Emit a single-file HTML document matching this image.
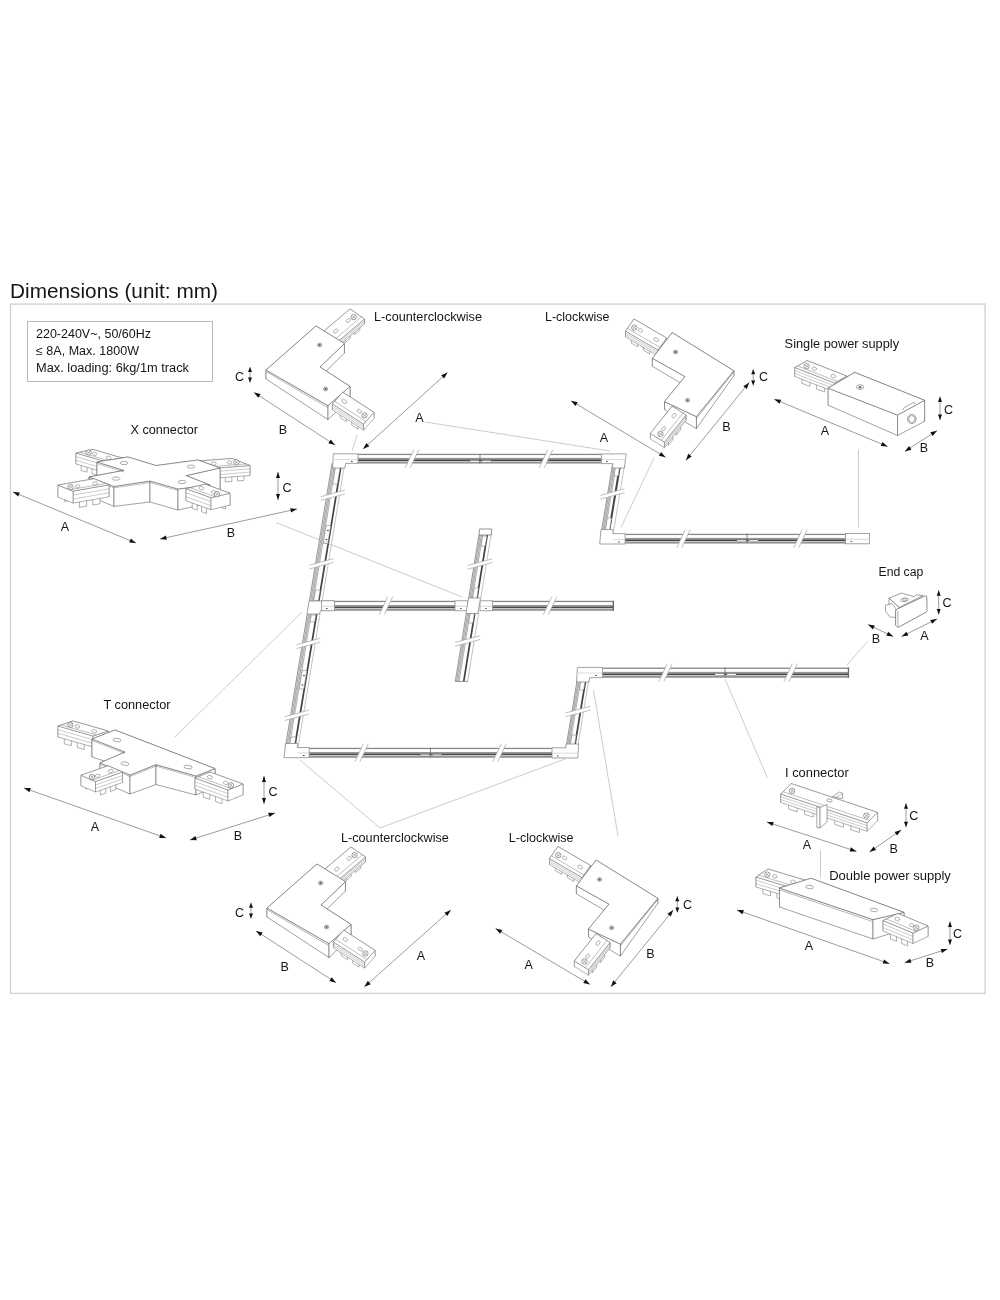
<!DOCTYPE html>
<html><head><meta charset="utf-8"><title>Dimensions</title>
<style>
html,body{margin:0;padding:0;background:#fff;}
body{width:1000px;height:1300px;overflow:hidden;font-family:"Liberation Sans",sans-serif;}
svg{display:block;position:absolute;left:0;top:0;will-change:transform;opacity:0.999;}
svg text{font-family:"Liberation Sans",sans-serif;}
</style></head><body>
<svg width="1000" height="1300" viewBox="0 0 1000 1300">
<rect x="0" y="0" width="1000" height="1300" fill="#fff"/>
<rect x="10.5" y="304.1" width="974.6" height="689.3" fill="none" stroke="#d2d2d2" stroke-width="1.4"/>
<rect x="27.5" y="321.5" width="185" height="60" fill="none" stroke="#b9b9b9" stroke-width="1"/>
<text x="10" y="297.5" font-size="21" text-anchor="start" fill="#151515" textLength="208" lengthAdjust="spacingAndGlyphs">Dimensions (unit: mm)</text>
<text x="36" y="337.5" font-size="12.3" text-anchor="start" fill="#151515" textLength="115" lengthAdjust="spacingAndGlyphs">220-240V~, 50/60Hz</text>
<text x="36" y="355" font-size="12.3" text-anchor="start" fill="#151515" textLength="103" lengthAdjust="spacingAndGlyphs">&#8804; 8A, Max. 1800W</text>
<text x="36" y="372.3" font-size="12.3" text-anchor="start" fill="#151515" textLength="153" lengthAdjust="spacingAndGlyphs">Max. loading: 6kg/1m track</text>
<polygon points="331.82,463 345.02,463 322.32,601 309.12,601" fill="#fff"/>
<polygon points="332.35,463 336.18,463 313.47,601 309.65,601" fill="#e9e9e9"/>
<line x1="332.08" y1="463" x2="309.38" y2="601" stroke="#7d7d7d" stroke-width="0.8"/>
<line x1="333.4" y1="463" x2="310.7" y2="601" stroke="#808080" stroke-width="0.6"/>
<line x1="334.72" y1="463" x2="312.02" y2="601" stroke="#808080" stroke-width="0.6"/>
<line x1="336.04" y1="463" x2="313.34" y2="601" stroke="#8a8a8a" stroke-width="0.6"/>
<line x1="341.46" y1="463" x2="318.75" y2="601" stroke="#444" stroke-width="1.7"/>
<line x1="344.82" y1="463" x2="322.12" y2="601" stroke="#9a9a9a" stroke-width="0.6"/>
<polygon points="306.98,614 320.18,614 298.14,748 284.94,748" fill="#fff"/>
<polygon points="307.51,614 311.34,614 289.29,748 285.47,748" fill="#e9e9e9"/>
<line x1="307.24" y1="614" x2="285.2" y2="748" stroke="#7d7d7d" stroke-width="0.8"/>
<line x1="308.56" y1="614" x2="286.52" y2="748" stroke="#808080" stroke-width="0.6"/>
<line x1="309.88" y1="614" x2="287.84" y2="748" stroke="#808080" stroke-width="0.6"/>
<line x1="311.2" y1="614" x2="289.16" y2="748" stroke="#8a8a8a" stroke-width="0.6"/>
<line x1="316.62" y1="614" x2="294.57" y2="748" stroke="#444" stroke-width="1.7"/>
<line x1="319.98" y1="614" x2="297.94" y2="748" stroke="#9a9a9a" stroke-width="0.6"/>
<polygon points="478.63,535 491.23,535 480.92,599 468.32,599" fill="#fff"/>
<polygon points="479.14,535 482.79,535 472.47,599 468.82,599" fill="#e9e9e9"/>
<line x1="478.88" y1="535" x2="468.57" y2="599" stroke="#7d7d7d" stroke-width="0.8"/>
<line x1="480.14" y1="535" x2="469.83" y2="599" stroke="#808080" stroke-width="0.6"/>
<line x1="481.4" y1="535" x2="471.09" y2="599" stroke="#808080" stroke-width="0.6"/>
<line x1="482.66" y1="535" x2="472.35" y2="599" stroke="#8a8a8a" stroke-width="0.6"/>
<line x1="487.2" y1="535" x2="476.88" y2="599" stroke="#444" stroke-width="1.7"/>
<line x1="491.04" y1="535" x2="480.73" y2="599" stroke="#9a9a9a" stroke-width="0.6"/>
<polygon points="466.06,613 478.86,613 467.83,681.4 455.03,681.4" fill="#fff"/>
<polygon points="466.57,613 470.28,613 459.26,681.4 455.55,681.4" fill="#e9e9e9"/>
<line x1="466.32" y1="613" x2="455.29" y2="681.4" stroke="#7d7d7d" stroke-width="0.8"/>
<line x1="467.6" y1="613" x2="456.57" y2="681.4" stroke="#808080" stroke-width="0.6"/>
<line x1="468.88" y1="613" x2="457.85" y2="681.4" stroke="#808080" stroke-width="0.6"/>
<line x1="470.16" y1="613" x2="459.13" y2="681.4" stroke="#8a8a8a" stroke-width="0.6"/>
<line x1="474.76" y1="613" x2="463.74" y2="681.4" stroke="#444" stroke-width="1.7"/>
<line x1="478.67" y1="613" x2="467.64" y2="681.4" stroke="#9a9a9a" stroke-width="0.6"/>
<polygon points="612.3,464 624.9,464 613.4,533.5 600.8,533.5" fill="#fff"/>
<polygon points="612.8,464 616.46,464 604.96,533.5 601.3,533.5" fill="#e9e9e9"/>
<line x1="612.55" y1="464" x2="601.05" y2="533.5" stroke="#7d7d7d" stroke-width="0.8"/>
<line x1="613.81" y1="464" x2="602.31" y2="533.5" stroke="#808080" stroke-width="0.6"/>
<line x1="615.07" y1="464" x2="603.57" y2="533.5" stroke="#808080" stroke-width="0.6"/>
<line x1="616.33" y1="464" x2="604.83" y2="533.5" stroke="#8a8a8a" stroke-width="0.6"/>
<line x1="620.24" y1="464" x2="608.74" y2="533.5" stroke="#444" stroke-width="2"/>
<line x1="624.71" y1="464" x2="613.21" y2="533.5" stroke="#9a9a9a" stroke-width="0.6"/>
<polygon points="577.4,677 589.4,677 577.6,748.5 565.6,748.5" fill="#fff"/>
<polygon points="577.88,677 581.36,677 569.56,748.5 566.08,748.5" fill="#e9e9e9"/>
<line x1="577.64" y1="677" x2="565.84" y2="748.5" stroke="#7d7d7d" stroke-width="0.8"/>
<line x1="578.84" y1="677" x2="567.04" y2="748.5" stroke="#808080" stroke-width="0.6"/>
<line x1="580.04" y1="677" x2="568.24" y2="748.5" stroke="#808080" stroke-width="0.6"/>
<line x1="581.24" y1="677" x2="569.44" y2="748.5" stroke="#8a8a8a" stroke-width="0.6"/>
<line x1="586.16" y1="677" x2="574.36" y2="748.5" stroke="#444" stroke-width="1.7"/>
<line x1="589.22" y1="677" x2="577.42" y2="748.5" stroke="#9a9a9a" stroke-width="0.6"/>
<polygon points="336.06,464 340.66,464 337.37,484 332.76,484" fill="#fff" stroke="#7a7a7a" stroke-width="0.55" stroke-linejoin="round"/>
<polygon points="326.14,525.5 330.74,525.5 327.78,543.5 323.18,543.5" fill="#fff" stroke="#7a7a7a" stroke-width="0.55" stroke-linejoin="round"/>
<rect x="327.07" y="529.86" width="1.6" height="1.1" fill="#333"/>
<rect x="325.56" y="539.04" width="1.6" height="1.1" fill="#333"/>
<polygon points="315.53,590 320.13,590 318.4,600.5 313.8,600.5" fill="#fff" stroke="#7a7a7a" stroke-width="0.55" stroke-linejoin="round"/>
<polygon points="311.22,615 315.82,615 314.66,622 310.06,622" fill="#fff" stroke="#7a7a7a" stroke-width="0.55" stroke-linejoin="round"/>
<polygon points="302.29,670.5 306.89,670.5 303.84,689 299.24,689" fill="#fff" stroke="#7a7a7a" stroke-width="0.55" stroke-linejoin="round"/>
<rect x="303.19" y="675" width="1.6" height="1.1" fill="#333"/>
<rect x="301.64" y="684.43" width="1.6" height="1.1" fill="#333"/>
<polygon points="291.15,737 295.75,737 293.94,748 289.34,748" fill="#fff" stroke="#7a7a7a" stroke-width="0.55" stroke-linejoin="round"/>
<polygon points="482.67,536 486.87,536 485.26,546 481.06,546" fill="#fff" stroke="#7a7a7a" stroke-width="0.55" stroke-linejoin="round"/>
<polygon points="474.29,588 478.49,588 476.72,599 472.52,599" fill="#fff" stroke="#7a7a7a" stroke-width="0.55" stroke-linejoin="round"/>
<polygon points="470.26,613 474.46,613 472.85,623 468.65,623" fill="#fff" stroke="#7a7a7a" stroke-width="0.55" stroke-linejoin="round"/>
<polygon points="615.58,466 619.78,466 618.2,476 614,476" fill="#fff" stroke="#7a7a7a" stroke-width="0.55" stroke-linejoin="round"/>
<polygon points="607.37,518 611.57,518 609.67,530 605.47,530" fill="#fff" stroke="#7a7a7a" stroke-width="0.55" stroke-linejoin="round"/>
<polygon points="581.27,679 585.47,679 583.65,690 579.45,690" fill="#fff" stroke="#7a7a7a" stroke-width="0.55" stroke-linejoin="round"/>
<polygon points="572.03,735 576.23,735 574.41,746 570.21,746" fill="#fff" stroke="#7a7a7a" stroke-width="0.55" stroke-linejoin="round"/>
<rect x="358" y="453.8" width="243" height="9.8" fill="#fff"/>
<rect x="358" y="453.8" width="243" height="1.25" fill="#878787"/>
<rect x="358" y="457.9" width="243" height="1.5" fill="#969696"/>
<rect x="358" y="459.4" width="243" height="1.7" fill="#484848"/>
<rect x="358" y="461.1" width="243" height="0.6" fill="#cdcdcd"/>
<rect x="358" y="461.7" width="243" height="1.9" fill="#949494"/>
<rect x="334" y="600.8" width="121" height="10" fill="#fff"/>
<rect x="334" y="600.8" width="121" height="1.28" fill="#878787"/>
<rect x="334" y="604.98" width="121" height="1.53" fill="#969696"/>
<rect x="334" y="606.51" width="121" height="1.73" fill="#484848"/>
<rect x="334" y="608.25" width="121" height="0.61" fill="#cdcdcd"/>
<rect x="334" y="608.86" width="121" height="1.94" fill="#949494"/>
<rect x="492" y="600.8" width="121" height="10" fill="#fff"/>
<rect x="492" y="600.8" width="121" height="1.28" fill="#878787"/>
<rect x="492" y="604.98" width="121" height="1.53" fill="#969696"/>
<rect x="492" y="606.51" width="121" height="1.73" fill="#484848"/>
<rect x="492" y="608.25" width="121" height="0.61" fill="#cdcdcd"/>
<rect x="492" y="608.86" width="121" height="1.94" fill="#949494"/>
<rect x="625" y="533.8" width="221" height="9.8" fill="#fff"/>
<rect x="625" y="533.8" width="221" height="1.25" fill="#878787"/>
<rect x="625" y="537.9" width="221" height="1.5" fill="#969696"/>
<rect x="625" y="539.4" width="221" height="1.7" fill="#484848"/>
<rect x="625" y="541.1" width="221" height="0.6" fill="#cdcdcd"/>
<rect x="625" y="541.7" width="221" height="1.9" fill="#949494"/>
<rect x="602.5" y="667.6" width="246.5" height="10.2" fill="#fff"/>
<rect x="602.5" y="667.6" width="246.5" height="1.3" fill="#878787"/>
<rect x="602.5" y="671.87" width="246.5" height="1.56" fill="#969696"/>
<rect x="602.5" y="673.43" width="246.5" height="1.77" fill="#484848"/>
<rect x="602.5" y="675.2" width="246.5" height="0.62" fill="#cdcdcd"/>
<rect x="602.5" y="675.82" width="246.5" height="1.98" fill="#949494"/>
<rect x="309" y="747.8" width="243" height="10" fill="#fff"/>
<rect x="309" y="747.8" width="243" height="1.28" fill="#878787"/>
<rect x="309" y="751.98" width="243" height="1.53" fill="#969696"/>
<rect x="309" y="753.51" width="243" height="1.73" fill="#484848"/>
<rect x="309" y="755.25" width="243" height="0.61" fill="#cdcdcd"/>
<rect x="309" y="755.86" width="243" height="1.94" fill="#949494"/>
<line x1="480" y1="454" x2="480" y2="463.5" stroke="#666" stroke-width="0.8"/>
<rect x="470" y="460.5" width="9" height="1.6" fill="#fff" stroke="#777" stroke-width="0.4"/>
<rect x="482" y="460.5" width="9" height="1.6" fill="#fff" stroke="#777" stroke-width="0.4"/>
<line x1="747" y1="533.5" x2="747" y2="543" stroke="#666" stroke-width="0.8"/>
<rect x="737" y="540" width="9" height="1.6" fill="#fff" stroke="#777" stroke-width="0.4"/>
<rect x="749" y="540" width="9" height="1.6" fill="#fff" stroke="#777" stroke-width="0.4"/>
<line x1="725" y1="667.2" x2="725" y2="676.7" stroke="#666" stroke-width="0.8"/>
<rect x="715" y="673.7" width="9" height="1.6" fill="#fff" stroke="#777" stroke-width="0.4"/>
<rect x="727" y="673.7" width="9" height="1.6" fill="#fff" stroke="#777" stroke-width="0.4"/>
<line x1="430.4" y1="747.8" x2="430.4" y2="757.3" stroke="#666" stroke-width="0.8"/>
<rect x="420.4" y="754.3" width="9" height="1.6" fill="#fff" stroke="#777" stroke-width="0.4"/>
<rect x="432.4" y="754.3" width="9" height="1.6" fill="#fff" stroke="#777" stroke-width="0.4"/>
<rect x="612.6" y="600.8" width="1.4" height="10" fill="#666"/>
<rect x="847.8" y="667.6" width="1.3" height="10.2" fill="#666"/>
<polygon points="333.3,453.8 358,453.8 358,463.4 345.6,463.4 344.9,468 332.6,468" fill="#fff" stroke="#8c8c8c" stroke-width="0.8" stroke-linejoin="round"/>
<line x1="334" y1="459.5" x2="357.6" y2="459.5" stroke="#c2c2c2" stroke-width="0.6"/>
<rect x="351" y="461" width="1.6" height="1" fill="#444"/>
<polygon points="601.5,453.9 626.2,453.9 624.4,468 612.2,468 612.9,463.6 601.5,463.6" fill="#fff" stroke="#8c8c8c" stroke-width="0.8" stroke-linejoin="round"/>
<line x1="602" y1="459.5" x2="625.5" y2="459.5" stroke="#c2c2c2" stroke-width="0.6"/>
<rect x="606" y="461" width="1.6" height="1" fill="#444"/>
<polygon points="601,529.6 613.4,529.6 612.8,533.6 625.1,533.6 625.1,544 599.7,544" fill="#fff" stroke="#8c8c8c" stroke-width="0.8" stroke-linejoin="round"/>
<line x1="613" y1="539.4" x2="624.6" y2="539.4" stroke="#c2c2c2" stroke-width="0.6"/>
<rect x="618" y="541.4" width="1.6" height="1" fill="#444"/>
<rect x="845.6" y="533.6" width="24" height="10.2" fill="#fff" stroke="#8c8c8c" stroke-width="0.8"/>
<line x1="845.6" y1="539.21" x2="869.6" y2="539.21" stroke="#bdbdbd" stroke-width="0.6"/>
<rect x="850.5" y="540.94" width="1.6" height="1" fill="#555"/>
<polygon points="309.12,601 334,601 334,610.5 320.62,610.5 319.48,614 306.98,614" fill="#fff" stroke="#8c8c8c" stroke-width="0.8" stroke-linejoin="round"/>
<rect x="321.5" y="600.8" width="13" height="10" fill="#fff" stroke="#8c8c8c" stroke-width="0.8"/>
<line x1="321.5" y1="606.3" x2="334.5" y2="606.3" stroke="#bdbdbd" stroke-width="0.6"/>
<rect x="326" y="608" width="1.6" height="1" fill="#555"/>
<rect x="455" y="600.8" width="12.5" height="10" fill="#fff" stroke="#8c8c8c" stroke-width="0.8"/>
<line x1="455" y1="606.3" x2="467.5" y2="606.3" stroke="#bdbdbd" stroke-width="0.6"/>
<rect x="460" y="608" width="1.6" height="1" fill="#555"/>
<rect x="480" y="600.8" width="12.5" height="10" fill="#fff" stroke="#8c8c8c" stroke-width="0.8"/>
<line x1="480" y1="606.3" x2="492.5" y2="606.3" stroke="#bdbdbd" stroke-width="0.6"/>
<rect x="485" y="608" width="1.6" height="1" fill="#555"/>
<polygon points="468.48,598 480.48,598 477.98,613.5 465.98,613.5" fill="#fff" stroke="#8c8c8c" stroke-width="0.8" stroke-linejoin="round"/>
<polygon points="479.6,529 491.8,529 491.3,535 479,535" fill="#fff" stroke="#777" stroke-width="0.8" stroke-linejoin="round"/>
<line x1="455.03" y1="681.4" x2="467.83" y2="681.4" stroke="#777" stroke-width="0.8"/>
<polygon points="577.4,667.4 602.5,667.4 602.5,677.6 589.7,677.6 589,682 576.6,682" fill="#fff" stroke="#8c8c8c" stroke-width="0.8" stroke-linejoin="round"/>
<line x1="578" y1="673" x2="602" y2="673" stroke="#c2c2c2" stroke-width="0.6"/>
<rect x="595" y="675" width="1.6" height="1" fill="#444"/>
<polygon points="566.2,744 578.7,744 577.8,758 552,758 552,747.8 565.6,747.8" fill="#fff" stroke="#8c8c8c" stroke-width="0.8" stroke-linejoin="round"/>
<line x1="552.5" y1="753.2" x2="577.4" y2="753.2" stroke="#c2c2c2" stroke-width="0.6"/>
<rect x="557" y="755.4" width="1.6" height="1" fill="#444"/>
<polygon points="285.7,743.5 298,743.5 297.2,747.5 309.2,747.5 309.2,757.7 284,757.7" fill="#fff" stroke="#8c8c8c" stroke-width="0.8" stroke-linejoin="round"/>
<line x1="297.4" y1="752.9" x2="308.8" y2="752.9" stroke="#c2c2c2" stroke-width="0.6"/>
<rect x="303" y="755" width="1.6" height="1" fill="#444"/>
<polygon points="413.73,449.7 418.73,449.7 410.27,467.7 405.27,467.7" fill="#fff"/>
<line x1="413.73" y1="449.7" x2="405.27" y2="467.7" stroke="#a3a3a3" stroke-width="0.7"/>
<line x1="418.73" y1="449.7" x2="410.27" y2="467.7" stroke="#a3a3a3" stroke-width="0.7"/>
<polygon points="547.73,449.7 552.73,449.7 544.27,467.7 539.27,467.7" fill="#fff"/>
<line x1="547.73" y1="449.7" x2="539.27" y2="467.7" stroke="#a3a3a3" stroke-width="0.7"/>
<line x1="552.73" y1="449.7" x2="544.27" y2="467.7" stroke="#a3a3a3" stroke-width="0.7"/>
<polygon points="387.73,596.7 392.73,596.7 384.27,614.7 379.27,614.7" fill="#fff"/>
<line x1="387.73" y1="596.7" x2="379.27" y2="614.7" stroke="#a3a3a3" stroke-width="0.7"/>
<line x1="392.73" y1="596.7" x2="384.27" y2="614.7" stroke="#a3a3a3" stroke-width="0.7"/>
<polygon points="551.73,596.7 556.73,596.7 548.27,614.7 543.27,614.7" fill="#fff"/>
<line x1="551.73" y1="596.7" x2="543.27" y2="614.7" stroke="#a3a3a3" stroke-width="0.7"/>
<line x1="556.73" y1="596.7" x2="548.27" y2="614.7" stroke="#a3a3a3" stroke-width="0.7"/>
<polygon points="685.23,529.7 690.23,529.7 681.77,547.7 676.77,547.7" fill="#fff"/>
<line x1="685.23" y1="529.7" x2="676.77" y2="547.7" stroke="#a3a3a3" stroke-width="0.7"/>
<line x1="690.23" y1="529.7" x2="681.77" y2="547.7" stroke="#a3a3a3" stroke-width="0.7"/>
<polygon points="802.23,529.7 807.23,529.7 798.77,547.7 793.77,547.7" fill="#fff"/>
<line x1="802.23" y1="529.7" x2="793.77" y2="547.7" stroke="#a3a3a3" stroke-width="0.7"/>
<line x1="807.23" y1="529.7" x2="798.77" y2="547.7" stroke="#a3a3a3" stroke-width="0.7"/>
<polygon points="667.23,663.7 672.23,663.7 663.77,681.7 658.77,681.7" fill="#fff"/>
<line x1="667.23" y1="663.7" x2="658.77" y2="681.7" stroke="#a3a3a3" stroke-width="0.7"/>
<line x1="672.23" y1="663.7" x2="663.77" y2="681.7" stroke="#a3a3a3" stroke-width="0.7"/>
<polygon points="792.33,663.7 797.33,663.7 788.87,681.7 783.87,681.7" fill="#fff"/>
<line x1="792.33" y1="663.7" x2="783.87" y2="681.7" stroke="#a3a3a3" stroke-width="0.7"/>
<line x1="797.33" y1="663.7" x2="788.87" y2="681.7" stroke="#a3a3a3" stroke-width="0.7"/>
<polygon points="363.33,743.8 368.33,743.8 359.87,761.8 354.87,761.8" fill="#fff"/>
<line x1="363.33" y1="743.8" x2="354.87" y2="761.8" stroke="#a3a3a3" stroke-width="0.7"/>
<line x1="368.33" y1="743.8" x2="359.87" y2="761.8" stroke="#a3a3a3" stroke-width="0.7"/>
<polygon points="501.23,743.8 506.23,743.8 497.77,761.8 492.77,761.8" fill="#fff"/>
<line x1="501.23" y1="743.8" x2="492.77" y2="761.8" stroke="#a3a3a3" stroke-width="0.7"/>
<line x1="506.23" y1="743.8" x2="497.77" y2="761.8" stroke="#a3a3a3" stroke-width="0.7"/>
<polygon points="320.81,496.64 344.81,490.16 344.81,493.96 320.81,500.44" fill="#fff"/>
<line x1="320.81" y1="496.64" x2="344.81" y2="490.16" stroke="#a3a3a3" stroke-width="0.7"/>
<line x1="320.81" y1="500.44" x2="344.81" y2="493.96" stroke="#a3a3a3" stroke-width="0.7"/>
<polygon points="309.54,565.14 333.54,558.66 333.54,562.46 309.54,568.94" fill="#fff"/>
<line x1="309.54" y1="565.14" x2="333.54" y2="558.66" stroke="#a3a3a3" stroke-width="0.7"/>
<line x1="309.54" y1="568.94" x2="333.54" y2="562.46" stroke="#a3a3a3" stroke-width="0.7"/>
<polygon points="296.44,644.74 320.44,638.26 320.44,642.06 296.44,648.54" fill="#fff"/>
<line x1="296.44" y1="644.74" x2="320.44" y2="638.26" stroke="#a3a3a3" stroke-width="0.7"/>
<line x1="296.44" y1="648.54" x2="320.44" y2="642.06" stroke="#a3a3a3" stroke-width="0.7"/>
<polygon points="284.6,716.74 308.6,710.26 308.6,714.06 284.6,720.54" fill="#fff"/>
<line x1="284.6" y1="716.74" x2="308.6" y2="710.26" stroke="#a3a3a3" stroke-width="0.7"/>
<line x1="284.6" y1="720.54" x2="308.6" y2="714.06" stroke="#a3a3a3" stroke-width="0.7"/>
<polygon points="600.5,495.34 624.5,488.86 624.5,492.66 600.5,499.14" fill="#fff"/>
<line x1="600.5" y1="495.34" x2="624.5" y2="488.86" stroke="#a3a3a3" stroke-width="0.7"/>
<line x1="600.5" y1="499.14" x2="624.5" y2="492.66" stroke="#a3a3a3" stroke-width="0.7"/>
<polygon points="467.46,565.48 492.46,558.73 492.46,562.52 467.46,569.27" fill="#fff"/>
<line x1="467.46" y1="565.48" x2="492.46" y2="558.73" stroke="#a3a3a3" stroke-width="0.7"/>
<line x1="467.46" y1="569.27" x2="492.46" y2="562.52" stroke="#a3a3a3" stroke-width="0.7"/>
<polygon points="455.05,642.48 480.05,635.73 480.05,639.52 455.05,646.27" fill="#fff"/>
<line x1="455.05" y1="642.48" x2="480.05" y2="635.73" stroke="#a3a3a3" stroke-width="0.7"/>
<line x1="455.05" y1="646.27" x2="480.05" y2="639.52" stroke="#a3a3a3" stroke-width="0.7"/>
<polygon points="565.5,712.98 590.5,706.23 590.5,710.02 565.5,716.77" fill="#fff"/>
<line x1="565.5" y1="712.98" x2="590.5" y2="706.23" stroke="#a3a3a3" stroke-width="0.7"/>
<line x1="565.5" y1="716.77" x2="590.5" y2="710.02" stroke="#a3a3a3" stroke-width="0.7"/>
<line x1="357" y1="435" x2="352" y2="451" stroke="#a9a9a9" stroke-width="0.6"/>
<line x1="425" y1="422" x2="610" y2="451" stroke="#a9a9a9" stroke-width="0.6"/>
<line x1="276" y1="522.5" x2="462" y2="597" stroke="#a9a9a9" stroke-width="0.6"/>
<line x1="302" y1="612" x2="175" y2="737" stroke="#a9a9a9" stroke-width="0.6"/>
<line x1="300" y1="760" x2="380" y2="828" stroke="#a9a9a9" stroke-width="0.6"/>
<line x1="380" y1="828" x2="565" y2="759" stroke="#a9a9a9" stroke-width="0.6"/>
<line x1="593.5" y1="690" x2="618" y2="836" stroke="#a9a9a9" stroke-width="0.6"/>
<line x1="725" y1="679" x2="767.5" y2="778" stroke="#a9a9a9" stroke-width="0.6"/>
<line x1="820.5" y1="850" x2="820.5" y2="877.5" stroke="#a9a9a9" stroke-width="0.6"/>
<line x1="867.5" y1="641.5" x2="847" y2="665" stroke="#a9a9a9" stroke-width="0.6"/>
<line x1="858.5" y1="449.5" x2="858.5" y2="527.5" stroke="#a9a9a9" stroke-width="0.6"/>
<line x1="654" y1="458" x2="621" y2="527.5" stroke="#a9a9a9" stroke-width="0.6"/>
<g id="comps">
<polygon points="345,338.5 350.2,334.1 350.2,338.35 345,342.75" fill="#fff" stroke="#707070" stroke-width="0.55" stroke-linejoin="round"/>
<polygon points="330.5,328.5 335.7,324.1 335.7,328.35 330.5,332.75" fill="#fff" stroke="#707070" stroke-width="0.55" stroke-linejoin="round"/>
<polygon points="354.62,330.36 359.82,325.96 359.82,330.21 354.62,334.61" fill="#fff" stroke="#707070" stroke-width="0.55" stroke-linejoin="round"/>
<polygon points="340.12,320.36 345.32,315.96 345.32,320.21 340.12,324.61" fill="#fff" stroke="#707070" stroke-width="0.55" stroke-linejoin="round"/>
<polygon points="350,309 364.5,319 364.5,324 350,314" fill="#fff" stroke="#707070" stroke-width="0.55" stroke-linejoin="round"/>
<polygon points="324,331 350,309 350,314 324,336" fill="#fff" stroke="#707070" stroke-width="0.55" stroke-linejoin="round"/>
<polygon points="364.5,319 338.5,341 338.5,346 364.5,324" fill="#fff" stroke="#707070" stroke-width="0.55" stroke-linejoin="round"/>
<polygon points="338.5,341 324,331 324,336 338.5,346" fill="#fff" stroke="#707070" stroke-width="0.55" stroke-linejoin="round"/>
<polygon points="324,331 350,309 364.5,319 338.5,341" fill="#fff" stroke="#707070" stroke-width="0.55" stroke-linejoin="round"/>
<line x1="338.5" y1="342.67" x2="364.5" y2="320.67" stroke="#8a8a8a" stroke-width="0.45"/>
<line x1="338.5" y1="344.33" x2="364.5" y2="322.33" stroke="#8a8a8a" stroke-width="0.45"/>
<line x1="335.31" y1="338.8" x2="361.31" y2="316.8" stroke="#707070" stroke-width="0.45"/>
<ellipse cx="335.72" cy="331.1" rx="2.5" ry="1.7" fill="#fff" stroke="#707070" stroke-width="0.5" transform="rotate(-40.24 335.72 331.1)"/>
<ellipse cx="348.2" cy="320.54" rx="2.3" ry="1.6" fill="#fff" stroke="#707070" stroke-width="0.5" transform="rotate(-40.24 348.2 320.54)"/>
<ellipse cx="353.61" cy="317.08" rx="2.7" ry="2.7" fill="#fff" stroke="#5c5c5c" stroke-width="0.6"/>
<line x1="351.81" y1="315.88" x2="355.41" y2="318.28" stroke="#707070" stroke-width="0.5"/>
<line x1="352.41" y1="318.88" x2="354.81" y2="315.28" stroke="#707070" stroke-width="0.5"/>
<polygon points="316,326 344.4,343.6 344.4,353.1 316,334" fill="#fff" stroke="#5c5c5c" stroke-width="0.58" stroke-linejoin="round"/>
<polygon points="266,370 316,326 316,334 266,379" fill="#fff" stroke="#5c5c5c" stroke-width="0.58" stroke-linejoin="round"/>
<polygon points="344.4,343.6 320,367 320,377 344.4,353.1" fill="#fff" stroke="#5c5c5c" stroke-width="0.58" stroke-linejoin="round"/>
<polygon points="320,367 350,386.4 350,398.4 320,377" fill="#fff" stroke="#5c5c5c" stroke-width="0.58" stroke-linejoin="round"/>
<polygon points="328,405.6 266,370 266,379 328,419.6" fill="#fff" stroke="#5c5c5c" stroke-width="0.58" stroke-linejoin="round"/>
<polygon points="350,386.4 328,405.6 328,419.6 350,398.4" fill="#fff" stroke="#5c5c5c" stroke-width="0.58" stroke-linejoin="round"/>
<polygon points="316,326 344.4,343.6 320,367 350,386.4 328,405.6 266,370" fill="#fff" stroke="#5c5c5c" stroke-width="0.58" stroke-linejoin="round"/>
<line x1="266.5" y1="371.8" x2="327.5" y2="407.4" stroke="#5c5c5c" stroke-width="0.45"/>
<ellipse cx="319.6" cy="345" rx="2.2" ry="1.87" fill="#fff" stroke="#5c5c5c" stroke-width="0.55"/>
<ellipse cx="319.6" cy="345" rx="0.99" ry="0.88" fill="#666" stroke="#444" stroke-width="0.4"/>
<ellipse cx="325.6" cy="389" rx="2.2" ry="1.87" fill="#fff" stroke="#5c5c5c" stroke-width="0.55"/>
<ellipse cx="325.6" cy="389" rx="0.99" ry="0.88" fill="#666" stroke="#444" stroke-width="0.4"/>
<polygon points="340.2,412.55 346.44,416.59 346.44,421.69 340.2,417.65" fill="#fff" stroke="#707070" stroke-width="0.55" stroke-linejoin="round"/>
<polygon points="350.6,400.85 356.84,404.89 356.84,409.99 350.6,405.95" fill="#fff" stroke="#707070" stroke-width="0.55" stroke-linejoin="round"/>
<polygon points="351.74,420.02 357.98,424.06 357.98,429.16 351.74,425.12" fill="#fff" stroke="#707070" stroke-width="0.55" stroke-linejoin="round"/>
<polygon points="362.14,408.32 368.38,412.36 368.38,417.46 362.14,413.42" fill="#fff" stroke="#707070" stroke-width="0.55" stroke-linejoin="round"/>
<polygon points="332.4,403.9 342.8,392.2 342.8,398.2 332.4,409.9" fill="#fff" stroke="#707070" stroke-width="0.55" stroke-linejoin="round"/>
<polygon points="342.8,392.2 374,412.4 374,418.4 342.8,398.2" fill="#fff" stroke="#707070" stroke-width="0.55" stroke-linejoin="round"/>
<polygon points="363.6,424.1 332.4,403.9 332.4,409.9 363.6,430.1" fill="#fff" stroke="#707070" stroke-width="0.55" stroke-linejoin="round"/>
<polygon points="374,412.4 363.6,424.1 363.6,430.1 374,418.4" fill="#fff" stroke="#707070" stroke-width="0.55" stroke-linejoin="round"/>
<polygon points="342.8,392.2 374,412.4 363.6,424.1 332.4,403.9" fill="#fff" stroke="#707070" stroke-width="0.55" stroke-linejoin="round"/>
<line x1="332.4" y1="405.9" x2="363.6" y2="426.1" stroke="#8a8a8a" stroke-width="0.45"/>
<line x1="332.4" y1="407.9" x2="363.6" y2="428.1" stroke="#8a8a8a" stroke-width="0.45"/>
<line x1="334.69" y1="401.33" x2="365.89" y2="421.53" stroke="#707070" stroke-width="0.45"/>
<ellipse cx="344.36" cy="401.5" rx="2.5" ry="1.7" fill="#fff" stroke="#707070" stroke-width="0.5" transform="rotate(32.92 344.36 401.5)"/>
<ellipse cx="359.34" cy="411.2" rx="2.3" ry="1.6" fill="#fff" stroke="#707070" stroke-width="0.5" transform="rotate(32.92 359.34 411.2)"/>
<ellipse cx="364.43" cy="415.42" rx="2.7" ry="2.7" fill="#fff" stroke="#5c5c5c" stroke-width="0.6"/>
<line x1="362.63" y1="414.22" x2="366.23" y2="416.62" stroke="#707070" stroke-width="0.5"/>
<line x1="363.23" y1="417.22" x2="365.63" y2="413.62" stroke="#707070" stroke-width="0.5"/>
<polygon points="346,876.5 351.2,872.1 351.2,876.35 346,880.75" fill="#fff" stroke="#707070" stroke-width="0.55" stroke-linejoin="round"/>
<polygon points="331.5,866.5 336.7,862.1 336.7,866.35 331.5,870.75" fill="#fff" stroke="#707070" stroke-width="0.55" stroke-linejoin="round"/>
<polygon points="355.62,868.36 360.82,863.96 360.82,868.21 355.62,872.61" fill="#fff" stroke="#707070" stroke-width="0.55" stroke-linejoin="round"/>
<polygon points="341.12,858.36 346.32,853.96 346.32,858.21 341.12,862.61" fill="#fff" stroke="#707070" stroke-width="0.55" stroke-linejoin="round"/>
<polygon points="351,847 365.5,857 365.5,862 351,852" fill="#fff" stroke="#707070" stroke-width="0.55" stroke-linejoin="round"/>
<polygon points="325,869 351,847 351,852 325,874" fill="#fff" stroke="#707070" stroke-width="0.55" stroke-linejoin="round"/>
<polygon points="365.5,857 339.5,879 339.5,884 365.5,862" fill="#fff" stroke="#707070" stroke-width="0.55" stroke-linejoin="round"/>
<polygon points="339.5,879 325,869 325,874 339.5,884" fill="#fff" stroke="#707070" stroke-width="0.55" stroke-linejoin="round"/>
<polygon points="325,869 351,847 365.5,857 339.5,879" fill="#fff" stroke="#707070" stroke-width="0.55" stroke-linejoin="round"/>
<line x1="339.5" y1="880.67" x2="365.5" y2="858.67" stroke="#8a8a8a" stroke-width="0.45"/>
<line x1="339.5" y1="882.33" x2="365.5" y2="860.33" stroke="#8a8a8a" stroke-width="0.45"/>
<line x1="336.31" y1="876.8" x2="362.31" y2="854.8" stroke="#707070" stroke-width="0.45"/>
<ellipse cx="336.72" cy="869.1" rx="2.5" ry="1.7" fill="#fff" stroke="#707070" stroke-width="0.5" transform="rotate(-40.24 336.72 869.1)"/>
<ellipse cx="349.2" cy="858.54" rx="2.3" ry="1.6" fill="#fff" stroke="#707070" stroke-width="0.5" transform="rotate(-40.24 349.2 858.54)"/>
<ellipse cx="354.61" cy="855.08" rx="2.7" ry="2.7" fill="#fff" stroke="#5c5c5c" stroke-width="0.6"/>
<line x1="352.81" y1="853.88" x2="356.41" y2="856.28" stroke="#707070" stroke-width="0.5"/>
<line x1="353.41" y1="856.88" x2="355.81" y2="853.28" stroke="#707070" stroke-width="0.5"/>
<polygon points="317,864 345.4,881.6 345.4,891.1 317,872" fill="#fff" stroke="#5c5c5c" stroke-width="0.58" stroke-linejoin="round"/>
<polygon points="267,908 317,864 317,872 267,917" fill="#fff" stroke="#5c5c5c" stroke-width="0.58" stroke-linejoin="round"/>
<polygon points="345.4,881.6 321,905 321,915 345.4,891.1" fill="#fff" stroke="#5c5c5c" stroke-width="0.58" stroke-linejoin="round"/>
<polygon points="321,905 351,924.4 351,936.4 321,915" fill="#fff" stroke="#5c5c5c" stroke-width="0.58" stroke-linejoin="round"/>
<polygon points="329,943.6 267,908 267,917 329,957.6" fill="#fff" stroke="#5c5c5c" stroke-width="0.58" stroke-linejoin="round"/>
<polygon points="351,924.4 329,943.6 329,957.6 351,936.4" fill="#fff" stroke="#5c5c5c" stroke-width="0.58" stroke-linejoin="round"/>
<polygon points="317,864 345.4,881.6 321,905 351,924.4 329,943.6 267,908" fill="#fff" stroke="#5c5c5c" stroke-width="0.58" stroke-linejoin="round"/>
<line x1="267.5" y1="909.8" x2="328.5" y2="945.4" stroke="#5c5c5c" stroke-width="0.45"/>
<ellipse cx="320.6" cy="883" rx="2.2" ry="1.87" fill="#fff" stroke="#5c5c5c" stroke-width="0.55"/>
<ellipse cx="320.6" cy="883" rx="0.99" ry="0.88" fill="#666" stroke="#444" stroke-width="0.4"/>
<ellipse cx="326.6" cy="927" rx="2.2" ry="1.87" fill="#fff" stroke="#5c5c5c" stroke-width="0.55"/>
<ellipse cx="326.6" cy="927" rx="0.99" ry="0.88" fill="#666" stroke="#444" stroke-width="0.4"/>
<polygon points="341.2,950.55 347.44,954.59 347.44,959.69 341.2,955.65" fill="#fff" stroke="#707070" stroke-width="0.55" stroke-linejoin="round"/>
<polygon points="351.6,938.85 357.84,942.89 357.84,947.99 351.6,943.95" fill="#fff" stroke="#707070" stroke-width="0.55" stroke-linejoin="round"/>
<polygon points="352.74,958.02 358.98,962.06 358.98,967.16 352.74,963.12" fill="#fff" stroke="#707070" stroke-width="0.55" stroke-linejoin="round"/>
<polygon points="363.14,946.32 369.38,950.36 369.38,955.46 363.14,951.42" fill="#fff" stroke="#707070" stroke-width="0.55" stroke-linejoin="round"/>
<polygon points="333.4,941.9 343.8,930.2 343.8,936.2 333.4,947.9" fill="#fff" stroke="#707070" stroke-width="0.55" stroke-linejoin="round"/>
<polygon points="343.8,930.2 375,950.4 375,956.4 343.8,936.2" fill="#fff" stroke="#707070" stroke-width="0.55" stroke-linejoin="round"/>
<polygon points="364.6,962.1 333.4,941.9 333.4,947.9 364.6,968.1" fill="#fff" stroke="#707070" stroke-width="0.55" stroke-linejoin="round"/>
<polygon points="375,950.4 364.6,962.1 364.6,968.1 375,956.4" fill="#fff" stroke="#707070" stroke-width="0.55" stroke-linejoin="round"/>
<polygon points="343.8,930.2 375,950.4 364.6,962.1 333.4,941.9" fill="#fff" stroke="#707070" stroke-width="0.55" stroke-linejoin="round"/>
<line x1="333.4" y1="943.9" x2="364.6" y2="964.1" stroke="#8a8a8a" stroke-width="0.45"/>
<line x1="333.4" y1="945.9" x2="364.6" y2="966.1" stroke="#8a8a8a" stroke-width="0.45"/>
<line x1="335.69" y1="939.33" x2="366.89" y2="959.53" stroke="#707070" stroke-width="0.45"/>
<ellipse cx="345.36" cy="939.5" rx="2.5" ry="1.7" fill="#fff" stroke="#707070" stroke-width="0.5" transform="rotate(32.92 345.36 939.5)"/>
<ellipse cx="360.34" cy="949.2" rx="2.3" ry="1.6" fill="#fff" stroke="#707070" stroke-width="0.5" transform="rotate(32.92 360.34 949.2)"/>
<ellipse cx="365.43" cy="953.42" rx="2.7" ry="2.7" fill="#fff" stroke="#5c5c5c" stroke-width="0.6"/>
<line x1="363.63" y1="952.22" x2="367.23" y2="954.62" stroke="#707070" stroke-width="0.5"/>
<line x1="364.23" y1="955.22" x2="366.63" y2="951.62" stroke="#707070" stroke-width="0.5"/>
<polygon points="649.88,348.85 643.38,345.05 643.38,350.15 649.88,353.95" fill="#fff" stroke="#707070" stroke-width="0.55" stroke-linejoin="round"/>
<polygon points="658.38,336.85 651.88,333.05 651.88,338.15 658.38,341.95" fill="#fff" stroke="#707070" stroke-width="0.55" stroke-linejoin="round"/>
<polygon points="637.85,341.82 631.35,338.02 631.35,343.12 637.85,346.92" fill="#fff" stroke="#707070" stroke-width="0.55" stroke-linejoin="round"/>
<polygon points="646.35,329.82 639.85,326.02 639.85,331.12 646.35,334.92" fill="#fff" stroke="#707070" stroke-width="0.55" stroke-linejoin="round"/>
<polygon points="634,319 625.5,331 625.5,337 634,325" fill="#fff" stroke="#707070" stroke-width="0.55" stroke-linejoin="round"/>
<polygon points="666.5,338 634,319 634,325 666.5,344" fill="#fff" stroke="#707070" stroke-width="0.55" stroke-linejoin="round"/>
<polygon points="625.5,331 658,350 658,356 625.5,337" fill="#fff" stroke="#707070" stroke-width="0.55" stroke-linejoin="round"/>
<polygon points="658,350 666.5,338 666.5,344 658,356" fill="#fff" stroke="#707070" stroke-width="0.55" stroke-linejoin="round"/>
<polygon points="666.5,338 634,319 625.5,331 658,350" fill="#fff" stroke="#707070" stroke-width="0.55" stroke-linejoin="round"/>
<line x1="658" y1="352" x2="625.5" y2="333" stroke="#8a8a8a" stroke-width="0.45"/>
<line x1="658" y1="354" x2="625.5" y2="335" stroke="#8a8a8a" stroke-width="0.45"/>
<line x1="659.87" y1="347.36" x2="627.37" y2="328.36" stroke="#707070" stroke-width="0.45"/>
<ellipse cx="656.17" cy="339.6" rx="2.5" ry="1.7" fill="#fff" stroke="#707070" stroke-width="0.5" transform="rotate(-149.69 656.17 339.6)"/>
<ellipse cx="640.57" cy="330.48" rx="2.3" ry="1.6" fill="#fff" stroke="#707070" stroke-width="0.5" transform="rotate(-149.69 640.57 330.48)"/>
<ellipse cx="634.3" cy="327.66" rx="2.7" ry="2.7" fill="#fff" stroke="#5c5c5c" stroke-width="0.6"/>
<line x1="632.5" y1="326.46" x2="636.1" y2="328.86" stroke="#707070" stroke-width="0.5"/>
<line x1="633.1" y1="329.46" x2="635.5" y2="325.86" stroke="#707070" stroke-width="0.5"/>
<polygon points="652.4,358.3 672.2,332.6 672.2,337.6 652.4,366.3" fill="#fff" stroke="#5c5c5c" stroke-width="0.58" stroke-linejoin="round"/>
<polygon points="672.2,332.6 733.8,370.8 733.8,375.8 672.2,337.6" fill="#fff" stroke="#5c5c5c" stroke-width="0.58" stroke-linejoin="round"/>
<polygon points="685,376.6 652.4,358.3 652.4,366.3 685,385.6" fill="#fff" stroke="#5c5c5c" stroke-width="0.58" stroke-linejoin="round"/>
<polygon points="664.5,401.6 685,376.6 685,385.6 664.5,409.6" fill="#fff" stroke="#5c5c5c" stroke-width="0.58" stroke-linejoin="round"/>
<polygon points="733.8,370.8 696.4,416.6 696.4,428.6 733.8,375.8" fill="#fff" stroke="#5c5c5c" stroke-width="0.58" stroke-linejoin="round"/>
<polygon points="696.4,416.6 664.5,401.6 664.5,409.6 696.4,428.6" fill="#fff" stroke="#5c5c5c" stroke-width="0.58" stroke-linejoin="round"/>
<polygon points="672.2,332.6 733.8,370.8 696.4,416.6 664.5,401.6 685,376.6 652.4,358.3" fill="#fff" stroke="#5c5c5c" stroke-width="0.58" stroke-linejoin="round"/>
<line x1="733.5" y1="372.4" x2="696.1" y2="418.8" stroke="#5c5c5c" stroke-width="0.45"/>
<ellipse cx="675.5" cy="352" rx="2.2" ry="1.87" fill="#fff" stroke="#5c5c5c" stroke-width="0.55"/>
<ellipse cx="675.5" cy="352" rx="0.99" ry="0.88" fill="#666" stroke="#444" stroke-width="0.4"/>
<ellipse cx="687.6" cy="400.3" rx="2.2" ry="1.87" fill="#fff" stroke="#5c5c5c" stroke-width="0.55"/>
<ellipse cx="687.6" cy="400.3" rx="0.99" ry="0.88" fill="#666" stroke="#444" stroke-width="0.4"/>
<polygon points="680.6,425.1 676.28,430.54 676.28,435.22 680.6,429.78" fill="#fff" stroke="#707070" stroke-width="0.55" stroke-linejoin="round"/>
<polygon points="666.6,416.3 662.28,421.74 662.28,426.42 666.6,420.98" fill="#fff" stroke="#707070" stroke-width="0.55" stroke-linejoin="round"/>
<polygon points="672.61,435.16 668.29,440.6 668.29,445.28 672.61,439.84" fill="#fff" stroke="#707070" stroke-width="0.55" stroke-linejoin="round"/>
<polygon points="658.61,426.36 654.29,431.8 654.29,436.48 658.61,431.04" fill="#fff" stroke="#707070" stroke-width="0.55" stroke-linejoin="round"/>
<polygon points="686,415 672,406.2 672,411.7 686,420.5" fill="#fff" stroke="#707070" stroke-width="0.55" stroke-linejoin="round"/>
<polygon points="672,406.2 650.4,433.4 650.4,438.9 672,411.7" fill="#fff" stroke="#707070" stroke-width="0.55" stroke-linejoin="round"/>
<polygon points="664.4,442.2 686,415 686,420.5 664.4,447.7" fill="#fff" stroke="#707070" stroke-width="0.55" stroke-linejoin="round"/>
<polygon points="650.4,433.4 664.4,442.2 664.4,447.7 650.4,438.9" fill="#fff" stroke="#707070" stroke-width="0.55" stroke-linejoin="round"/>
<polygon points="672,406.2 650.4,433.4 664.4,442.2 686,415" fill="#fff" stroke="#707070" stroke-width="0.55" stroke-linejoin="round"/>
<line x1="686" y1="416.83" x2="664.4" y2="444.03" stroke="#8a8a8a" stroke-width="0.45"/>
<line x1="686" y1="418.67" x2="664.4" y2="445.87" stroke="#8a8a8a" stroke-width="0.45"/>
<line x1="682.92" y1="413.06" x2="661.32" y2="440.26" stroke="#707070" stroke-width="0.45"/>
<ellipse cx="673.98" cy="415.6" rx="2.5" ry="1.7" fill="#fff" stroke="#707070" stroke-width="0.5" transform="rotate(128.45 673.98 415.6)"/>
<ellipse cx="663.61" cy="428.66" rx="2.3" ry="1.6" fill="#fff" stroke="#707070" stroke-width="0.5" transform="rotate(128.45 663.61 428.66)"/>
<ellipse cx="660.42" cy="433.99" rx="2.7" ry="2.7" fill="#fff" stroke="#5c5c5c" stroke-width="0.6"/>
<line x1="658.62" y1="432.79" x2="662.22" y2="435.19" stroke="#707070" stroke-width="0.5"/>
<line x1="659.22" y1="435.79" x2="661.62" y2="432.19" stroke="#707070" stroke-width="0.5"/>
<polygon points="573.88,876.35 567.38,872.55 567.38,877.65 573.88,881.45" fill="#fff" stroke="#707070" stroke-width="0.55" stroke-linejoin="round"/>
<polygon points="582.38,864.35 575.88,860.55 575.88,865.65 582.38,869.45" fill="#fff" stroke="#707070" stroke-width="0.55" stroke-linejoin="round"/>
<polygon points="561.85,869.32 555.35,865.52 555.35,870.62 561.85,874.42" fill="#fff" stroke="#707070" stroke-width="0.55" stroke-linejoin="round"/>
<polygon points="570.35,857.32 563.85,853.52 563.85,858.62 570.35,862.42" fill="#fff" stroke="#707070" stroke-width="0.55" stroke-linejoin="round"/>
<polygon points="558,846.5 549.5,858.5 549.5,864.5 558,852.5" fill="#fff" stroke="#707070" stroke-width="0.55" stroke-linejoin="round"/>
<polygon points="590.5,865.5 558,846.5 558,852.5 590.5,871.5" fill="#fff" stroke="#707070" stroke-width="0.55" stroke-linejoin="round"/>
<polygon points="549.5,858.5 582,877.5 582,883.5 549.5,864.5" fill="#fff" stroke="#707070" stroke-width="0.55" stroke-linejoin="round"/>
<polygon points="582,877.5 590.5,865.5 590.5,871.5 582,883.5" fill="#fff" stroke="#707070" stroke-width="0.55" stroke-linejoin="round"/>
<polygon points="590.5,865.5 558,846.5 549.5,858.5 582,877.5" fill="#fff" stroke="#707070" stroke-width="0.55" stroke-linejoin="round"/>
<line x1="582" y1="879.5" x2="549.5" y2="860.5" stroke="#8a8a8a" stroke-width="0.45"/>
<line x1="582" y1="881.5" x2="549.5" y2="862.5" stroke="#8a8a8a" stroke-width="0.45"/>
<line x1="583.87" y1="874.86" x2="551.37" y2="855.86" stroke="#707070" stroke-width="0.45"/>
<ellipse cx="580.17" cy="867.1" rx="2.5" ry="1.7" fill="#fff" stroke="#707070" stroke-width="0.5" transform="rotate(-149.69 580.17 867.1)"/>
<ellipse cx="564.57" cy="857.98" rx="2.3" ry="1.6" fill="#fff" stroke="#707070" stroke-width="0.5" transform="rotate(-149.69 564.57 857.98)"/>
<ellipse cx="558.3" cy="855.16" rx="2.7" ry="2.7" fill="#fff" stroke="#5c5c5c" stroke-width="0.6"/>
<line x1="556.5" y1="853.96" x2="560.1" y2="856.36" stroke="#707070" stroke-width="0.5"/>
<line x1="557.1" y1="856.96" x2="559.5" y2="853.36" stroke="#707070" stroke-width="0.5"/>
<polygon points="576.4,885.8 596.2,860.1 596.2,865.1 576.4,893.8" fill="#fff" stroke="#5c5c5c" stroke-width="0.58" stroke-linejoin="round"/>
<polygon points="596.2,860.1 657.8,898.3 657.8,903.3 596.2,865.1" fill="#fff" stroke="#5c5c5c" stroke-width="0.58" stroke-linejoin="round"/>
<polygon points="609,904.1 576.4,885.8 576.4,893.8 609,913.1" fill="#fff" stroke="#5c5c5c" stroke-width="0.58" stroke-linejoin="round"/>
<polygon points="588.5,929.1 609,904.1 609,913.1 588.5,937.1" fill="#fff" stroke="#5c5c5c" stroke-width="0.58" stroke-linejoin="round"/>
<polygon points="657.8,898.3 620.4,944.1 620.4,956.1 657.8,903.3" fill="#fff" stroke="#5c5c5c" stroke-width="0.58" stroke-linejoin="round"/>
<polygon points="620.4,944.1 588.5,929.1 588.5,937.1 620.4,956.1" fill="#fff" stroke="#5c5c5c" stroke-width="0.58" stroke-linejoin="round"/>
<polygon points="596.2,860.1 657.8,898.3 620.4,944.1 588.5,929.1 609,904.1 576.4,885.8" fill="#fff" stroke="#5c5c5c" stroke-width="0.58" stroke-linejoin="round"/>
<line x1="657.5" y1="899.9" x2="620.1" y2="946.3" stroke="#5c5c5c" stroke-width="0.45"/>
<ellipse cx="599.5" cy="879.5" rx="2.2" ry="1.87" fill="#fff" stroke="#5c5c5c" stroke-width="0.55"/>
<ellipse cx="599.5" cy="879.5" rx="0.99" ry="0.88" fill="#666" stroke="#444" stroke-width="0.4"/>
<ellipse cx="611.6" cy="927.8" rx="2.2" ry="1.87" fill="#fff" stroke="#5c5c5c" stroke-width="0.55"/>
<ellipse cx="611.6" cy="927.8" rx="0.99" ry="0.88" fill="#666" stroke="#444" stroke-width="0.4"/>
<polygon points="604.6,952.6 600.28,958.04 600.28,962.72 604.6,957.27" fill="#fff" stroke="#707070" stroke-width="0.55" stroke-linejoin="round"/>
<polygon points="590.6,943.8 586.28,949.24 586.28,953.92 590.6,948.48" fill="#fff" stroke="#707070" stroke-width="0.55" stroke-linejoin="round"/>
<polygon points="596.61,962.66 592.29,968.1 592.29,972.78 596.61,967.34" fill="#fff" stroke="#707070" stroke-width="0.55" stroke-linejoin="round"/>
<polygon points="582.61,953.86 578.29,959.3 578.29,963.98 582.61,958.54" fill="#fff" stroke="#707070" stroke-width="0.55" stroke-linejoin="round"/>
<polygon points="610,942.5 596,933.7 596,939.2 610,948" fill="#fff" stroke="#707070" stroke-width="0.55" stroke-linejoin="round"/>
<polygon points="596,933.7 574.4,960.9 574.4,966.4 596,939.2" fill="#fff" stroke="#707070" stroke-width="0.55" stroke-linejoin="round"/>
<polygon points="588.4,969.7 610,942.5 610,948 588.4,975.2" fill="#fff" stroke="#707070" stroke-width="0.55" stroke-linejoin="round"/>
<polygon points="574.4,960.9 588.4,969.7 588.4,975.2 574.4,966.4" fill="#fff" stroke="#707070" stroke-width="0.55" stroke-linejoin="round"/>
<polygon points="596,933.7 574.4,960.9 588.4,969.7 610,942.5" fill="#fff" stroke="#707070" stroke-width="0.55" stroke-linejoin="round"/>
<line x1="610" y1="944.33" x2="588.4" y2="971.53" stroke="#8a8a8a" stroke-width="0.45"/>
<line x1="610" y1="946.17" x2="588.4" y2="973.37" stroke="#8a8a8a" stroke-width="0.45"/>
<line x1="606.92" y1="940.56" x2="585.32" y2="967.76" stroke="#707070" stroke-width="0.45"/>
<ellipse cx="597.98" cy="943.1" rx="2.5" ry="1.7" fill="#fff" stroke="#707070" stroke-width="0.5" transform="rotate(128.45 597.98 943.1)"/>
<ellipse cx="587.61" cy="956.16" rx="2.3" ry="1.6" fill="#fff" stroke="#707070" stroke-width="0.5" transform="rotate(128.45 587.61 956.16)"/>
<ellipse cx="584.42" cy="961.49" rx="2.7" ry="2.7" fill="#fff" stroke="#5c5c5c" stroke-width="0.6"/>
<line x1="582.62" y1="960.29" x2="586.22" y2="962.69" stroke="#707070" stroke-width="0.5"/>
<line x1="583.22" y1="963.29" x2="585.62" y2="959.69" stroke="#707070" stroke-width="0.5"/>
<polygon points="97.75,465.98 91.95,464.28 91.95,473.62 97.75,475.32" fill="#fff" stroke="#707070" stroke-width="0.55" stroke-linejoin="round"/>
<polygon points="114.75,462.48 108.95,460.78 108.95,470.12 114.75,471.82" fill="#fff" stroke="#707070" stroke-width="0.55" stroke-linejoin="round"/>
<polygon points="87.02,462.83 81.22,461.13 81.22,470.48 87.02,472.18" fill="#fff" stroke="#707070" stroke-width="0.55" stroke-linejoin="round"/>
<polygon points="104.02,459.33 98.22,457.63 98.22,466.98 104.02,468.68" fill="#fff" stroke="#707070" stroke-width="0.55" stroke-linejoin="round"/>
<polygon points="93,449.5 76,453 76,464 93,460.5" fill="#fff" stroke="#707070" stroke-width="0.55" stroke-linejoin="round"/>
<polygon points="122,458 93,449.5 93,460.5 122,469" fill="#fff" stroke="#707070" stroke-width="0.55" stroke-linejoin="round"/>
<polygon points="76,453 105,461.5 105,472.5 76,464" fill="#fff" stroke="#707070" stroke-width="0.55" stroke-linejoin="round"/>
<polygon points="105,461.5 122,458 122,469 105,472.5" fill="#fff" stroke="#707070" stroke-width="0.55" stroke-linejoin="round"/>
<polygon points="122,458 93,449.5 76,453 105,461.5" fill="#fff" stroke="#707070" stroke-width="0.55" stroke-linejoin="round"/>
<line x1="105" y1="465.17" x2="76" y2="456.67" stroke="#8a8a8a" stroke-width="0.45"/>
<line x1="105" y1="468.83" x2="76" y2="460.33" stroke="#8a8a8a" stroke-width="0.45"/>
<line x1="108.74" y1="460.73" x2="79.74" y2="452.23" stroke="#707070" stroke-width="0.45"/>
<ellipse cx="108.55" cy="457.88" rx="2.5" ry="1.7" fill="#fff" stroke="#707070" stroke-width="0.5" transform="rotate(-163.66 108.55 457.88)"/>
<ellipse cx="94.63" cy="453.8" rx="2.3" ry="1.6" fill="#fff" stroke="#707070" stroke-width="0.5" transform="rotate(-163.66 94.63 453.8)"/>
<ellipse cx="88.56" cy="452.44" rx="2.7" ry="2.7" fill="#fff" stroke="#5c5c5c" stroke-width="0.6"/>
<line x1="86.76" y1="451.24" x2="90.36" y2="453.64" stroke="#707070" stroke-width="0.5"/>
<line x1="87.36" y1="454.24" x2="89.76" y2="450.64" stroke="#707070" stroke-width="0.5"/>
<polygon points="225.25,473.38 231.85,472.88 231.85,481.38 225.25,481.88" fill="#fff" stroke="#707070" stroke-width="0.55" stroke-linejoin="round"/>
<polygon points="207.25,466.38 213.85,465.88 213.85,474.38 207.25,474.88" fill="#fff" stroke="#707070" stroke-width="0.55" stroke-linejoin="round"/>
<polygon points="237.46,472.45 244.06,471.95 244.06,480.45 237.46,480.95" fill="#fff" stroke="#707070" stroke-width="0.55" stroke-linejoin="round"/>
<polygon points="219.46,465.45 226.06,464.95 226.06,473.45 219.46,473.95" fill="#fff" stroke="#707070" stroke-width="0.55" stroke-linejoin="round"/>
<polygon points="199,461 232,458.5 232,468.5 199,471" fill="#fff" stroke="#707070" stroke-width="0.55" stroke-linejoin="round"/>
<polygon points="232,458.5 250,465.5 250,475.5 232,468.5" fill="#fff" stroke="#707070" stroke-width="0.55" stroke-linejoin="round"/>
<polygon points="217,468 199,461 199,471 217,478" fill="#fff" stroke="#707070" stroke-width="0.55" stroke-linejoin="round"/>
<polygon points="250,465.5 217,468 217,478 250,475.5" fill="#fff" stroke="#707070" stroke-width="0.55" stroke-linejoin="round"/>
<polygon points="199,461 232,458.5 250,465.5 217,468" fill="#fff" stroke="#707070" stroke-width="0.55" stroke-linejoin="round"/>
<line x1="217" y1="471.33" x2="250" y2="468.83" stroke="#8a8a8a" stroke-width="0.45"/>
<line x1="217" y1="474.67" x2="250" y2="472.17" stroke="#8a8a8a" stroke-width="0.45"/>
<line x1="213.04" y1="466.46" x2="246.04" y2="463.96" stroke="#707070" stroke-width="0.45"/>
<ellipse cx="213.7" cy="463.65" rx="2.5" ry="1.7" fill="#fff" stroke="#707070" stroke-width="0.5" transform="rotate(-4.33 213.7 463.65)"/>
<ellipse cx="229.54" cy="462.45" rx="2.3" ry="1.6" fill="#fff" stroke="#707070" stroke-width="0.5" transform="rotate(-4.33 229.54 462.45)"/>
<ellipse cx="236.38" cy="462.35" rx="2.7" ry="2.7" fill="#fff" stroke="#5c5c5c" stroke-width="0.6"/>
<line x1="234.58" y1="461.15" x2="238.18" y2="463.55" stroke="#707070" stroke-width="0.5"/>
<line x1="235.18" y1="464.15" x2="237.58" y2="460.55" stroke="#707070" stroke-width="0.5"/>
<polygon points="97,462 128,457 128,472 97,477" fill="#fff" stroke="#5c5c5c" stroke-width="0.58" stroke-linejoin="round"/>
<polygon points="128,457 156,465.6 156,480.6 128,472" fill="#fff" stroke="#5c5c5c" stroke-width="0.58" stroke-linejoin="round"/>
<polygon points="156,465.6 198,460 198,475 156,480.6" fill="#fff" stroke="#5c5c5c" stroke-width="0.58" stroke-linejoin="round"/>
<polygon points="198,460 220,468 220,490 198,475" fill="#fff" stroke="#5c5c5c" stroke-width="0.58" stroke-linejoin="round"/>
<polygon points="124,470.4 97,462 97,477 124,485.4" fill="#fff" stroke="#5c5c5c" stroke-width="0.58" stroke-linejoin="round"/>
<polygon points="220,468 186,475.6 186,491.6 220,490" fill="#fff" stroke="#5c5c5c" stroke-width="0.58" stroke-linejoin="round"/>
<polygon points="89,477 124,470.4 124,485.4 89,496" fill="#fff" stroke="#5c5c5c" stroke-width="0.58" stroke-linejoin="round"/>
<polygon points="186,475.6 210,485 210,503 186,491.6" fill="#fff" stroke="#5c5c5c" stroke-width="0.58" stroke-linejoin="round"/>
<polygon points="114,486.4 89,477 89,496 114,506.4" fill="#fff" stroke="#5c5c5c" stroke-width="0.58" stroke-linejoin="round"/>
<polygon points="150,481 114,486.4 114,506.4 150,502" fill="#fff" stroke="#5c5c5c" stroke-width="0.58" stroke-linejoin="round"/>
<polygon points="178,489 150,481 150,502 178,510" fill="#fff" stroke="#5c5c5c" stroke-width="0.58" stroke-linejoin="round"/>
<polygon points="210,485 178,489 178,510 210,503" fill="#fff" stroke="#5c5c5c" stroke-width="0.58" stroke-linejoin="round"/>
<polygon points="128,457 156,465.6 198,460 220,468 186,475.6 210,485 178,489 150,481 114,486.4 89,477 124,470.4 97,462" fill="#fff" stroke="#5c5c5c" stroke-width="0.58" stroke-linejoin="round"/>
<line x1="89" y1="478.5" x2="114" y2="487.9" stroke="#5c5c5c" stroke-width="0.4"/>
<line x1="114" y1="487.9" x2="150" y2="482.5" stroke="#5c5c5c" stroke-width="0.4"/>
<line x1="150" y1="482.5" x2="178" y2="490.5" stroke="#5c5c5c" stroke-width="0.4"/>
<line x1="97" y1="463.5" x2="124" y2="471.9" stroke="#5c5c5c" stroke-width="0.4"/>
<ellipse cx="124" cy="463" rx="4" ry="1.6" fill="#fff" stroke="#5c5c5c" stroke-width="0.5"/>
<ellipse cx="116" cy="478.6" rx="4" ry="1.6" fill="#fff" stroke="#5c5c5c" stroke-width="0.5"/>
<ellipse cx="191" cy="466.6" rx="4" ry="1.6" fill="#fff" stroke="#5c5c5c" stroke-width="0.5"/>
<ellipse cx="182" cy="482" rx="4" ry="1.6" fill="#fff" stroke="#5c5c5c" stroke-width="0.5"/>
<polygon points="85,487.57 77.8,488.83 77.8,499.03 85,497.77" fill="#fff" stroke="#707070" stroke-width="0.55" stroke-linejoin="round"/>
<polygon points="100,493.57 92.8,494.83 92.8,505.03 100,503.77" fill="#fff" stroke="#707070" stroke-width="0.55" stroke-linejoin="round"/>
<polygon points="71.68,489.91 64.48,491.17 64.48,501.37 71.68,500.11" fill="#fff" stroke="#707070" stroke-width="0.55" stroke-linejoin="round"/>
<polygon points="86.68,495.91 79.48,497.17 79.48,507.37 86.68,506.11" fill="#fff" stroke="#707070" stroke-width="0.55" stroke-linejoin="round"/>
<polygon points="94,478.8 109,484.8 109,496.8 94,490.8" fill="#fff" stroke="#707070" stroke-width="0.55" stroke-linejoin="round"/>
<polygon points="58,485.1 94,478.8 94,490.8 58,497.1" fill="#fff" stroke="#707070" stroke-width="0.55" stroke-linejoin="round"/>
<polygon points="109,484.8 73,491.1 73,503.1 109,496.8" fill="#fff" stroke="#707070" stroke-width="0.55" stroke-linejoin="round"/>
<polygon points="73,491.1 58,485.1 58,497.1 73,503.1" fill="#fff" stroke="#707070" stroke-width="0.55" stroke-linejoin="round"/>
<polygon points="109,484.8 73,491.1 58,485.1 94,478.8" fill="#fff" stroke="#707070" stroke-width="0.55" stroke-linejoin="round"/>
<line x1="109" y1="488.8" x2="73" y2="495.1" stroke="#8a8a8a" stroke-width="0.45"/>
<line x1="109" y1="492.8" x2="73" y2="499.1" stroke="#8a8a8a" stroke-width="0.45"/>
<line x1="105.7" y1="483.48" x2="69.7" y2="489.78" stroke="#707070" stroke-width="0.45"/>
<ellipse cx="95.05" cy="483.36" rx="2.5" ry="1.7" fill="#fff" stroke="#707070" stroke-width="0.5" transform="rotate(170.07 95.05 483.36)"/>
<ellipse cx="77.77" cy="486.38" rx="2.3" ry="1.6" fill="#fff" stroke="#707070" stroke-width="0.5" transform="rotate(170.07 77.77 486.38)"/>
<ellipse cx="70.54" cy="487.22" rx="2.7" ry="2.7" fill="#fff" stroke="#5c5c5c" stroke-width="0.6"/>
<line x1="68.74" y1="486.02" x2="72.34" y2="488.42" stroke="#707070" stroke-width="0.5"/>
<line x1="69.34" y1="489.02" x2="71.74" y2="485.42" stroke="#707070" stroke-width="0.5"/>
<polygon points="192.25,498.15 197.25,499.95 197.25,510.15 192.25,508.35" fill="#fff" stroke="#707070" stroke-width="0.55" stroke-linejoin="round"/>
<polygon points="211.25,493.65 216.25,495.45 216.25,505.65 211.25,503.85" fill="#fff" stroke="#707070" stroke-width="0.55" stroke-linejoin="round"/>
<polygon points="201.5,501.48 206.5,503.28 206.5,513.48 201.5,511.68" fill="#fff" stroke="#707070" stroke-width="0.55" stroke-linejoin="round"/>
<polygon points="220.5,496.98 225.5,498.78 225.5,508.98 220.5,507.18" fill="#fff" stroke="#707070" stroke-width="0.55" stroke-linejoin="round"/>
<polygon points="186,488.7 205,484.2 205,496.2 186,500.7" fill="#fff" stroke="#707070" stroke-width="0.55" stroke-linejoin="round"/>
<polygon points="205,484.2 230,493.2 230,505.2 205,496.2" fill="#fff" stroke="#707070" stroke-width="0.55" stroke-linejoin="round"/>
<polygon points="211,497.7 186,488.7 186,500.7 211,509.7" fill="#fff" stroke="#707070" stroke-width="0.55" stroke-linejoin="round"/>
<polygon points="230,493.2 211,497.7 211,509.7 230,505.2" fill="#fff" stroke="#707070" stroke-width="0.55" stroke-linejoin="round"/>
<polygon points="205,484.2 230,493.2 211,497.7 186,488.7" fill="#fff" stroke="#707070" stroke-width="0.55" stroke-linejoin="round"/>
<line x1="186" y1="492.7" x2="211" y2="501.7" stroke="#8a8a8a" stroke-width="0.45"/>
<line x1="186" y1="496.7" x2="211" y2="505.7" stroke="#8a8a8a" stroke-width="0.45"/>
<line x1="190.18" y1="487.71" x2="215.18" y2="496.71" stroke="#707070" stroke-width="0.45"/>
<ellipse cx="201.45" cy="488.02" rx="2.5" ry="1.7" fill="#fff" stroke="#707070" stroke-width="0.5" transform="rotate(19.8 201.45 488.02)"/>
<ellipse cx="213.45" cy="492.34" rx="2.3" ry="1.6" fill="#fff" stroke="#707070" stroke-width="0.5" transform="rotate(19.8 213.45 492.34)"/>
<ellipse cx="217" cy="494.19" rx="2.7" ry="2.7" fill="#fff" stroke="#5c5c5c" stroke-width="0.6"/>
<line x1="215.2" y1="492.99" x2="218.8" y2="495.39" stroke="#707070" stroke-width="0.5"/>
<line x1="215.8" y1="495.99" x2="218.2" y2="492.39" stroke="#707070" stroke-width="0.5"/>
<polygon points="84.25,740.1 77.25,738.1 77.25,747.45 84.25,749.45" fill="#fff" stroke="#707070" stroke-width="0.55" stroke-linejoin="round"/>
<polygon points="99.25,735.1 92.25,733.1 92.25,742.45 99.25,744.45" fill="#fff" stroke="#707070" stroke-width="0.55" stroke-linejoin="round"/>
<polygon points="71.3,736.4 64.3,734.4 64.3,743.75 71.3,745.75" fill="#fff" stroke="#707070" stroke-width="0.55" stroke-linejoin="round"/>
<polygon points="86.3,731.4 79.3,729.4 79.3,738.75 86.3,740.75" fill="#fff" stroke="#707070" stroke-width="0.55" stroke-linejoin="round"/>
<polygon points="73,721 58,726 58,737 73,732" fill="#fff" stroke="#707070" stroke-width="0.55" stroke-linejoin="round"/>
<polygon points="108,731 73,721 73,732 108,742" fill="#fff" stroke="#707070" stroke-width="0.55" stroke-linejoin="round"/>
<polygon points="58,726 93,736 93,747 58,737" fill="#fff" stroke="#707070" stroke-width="0.55" stroke-linejoin="round"/>
<polygon points="93,736 108,731 108,742 93,747" fill="#fff" stroke="#707070" stroke-width="0.55" stroke-linejoin="round"/>
<polygon points="108,731 73,721 58,726 93,736" fill="#fff" stroke="#707070" stroke-width="0.55" stroke-linejoin="round"/>
<line x1="93" y1="739.67" x2="58" y2="729.67" stroke="#8a8a8a" stroke-width="0.45"/>
<line x1="93" y1="743.33" x2="58" y2="733.33" stroke="#8a8a8a" stroke-width="0.45"/>
<line x1="96.3" y1="734.9" x2="61.3" y2="724.9" stroke="#707070" stroke-width="0.45"/>
<ellipse cx="94.25" cy="731.25" rx="2.5" ry="1.7" fill="#fff" stroke="#707070" stroke-width="0.5" transform="rotate(-164.05 94.25 731.25)"/>
<ellipse cx="77.45" cy="726.45" rx="2.3" ry="1.6" fill="#fff" stroke="#707070" stroke-width="0.5" transform="rotate(-164.05 77.45 726.45)"/>
<ellipse cx="70.4" cy="724.9" rx="2.7" ry="2.7" fill="#fff" stroke="#5c5c5c" stroke-width="0.6"/>
<line x1="68.6" y1="723.7" x2="72.2" y2="726.1" stroke="#707070" stroke-width="0.5"/>
<line x1="69.2" y1="726.7" x2="71.6" y2="723.1" stroke="#707070" stroke-width="0.5"/>
<polygon points="92,739 115,730 115,744 92,757" fill="#fff" stroke="#5c5c5c" stroke-width="0.58" stroke-linejoin="round"/>
<polygon points="125,752 92,739 92,757 125,768" fill="#fff" stroke="#5c5c5c" stroke-width="0.58" stroke-linejoin="round"/>
<polygon points="115,730 215,768.6 215,786.6 115,744" fill="#fff" stroke="#5c5c5c" stroke-width="0.58" stroke-linejoin="round"/>
<polygon points="100,763 125,752 125,768 100,781" fill="#fff" stroke="#5c5c5c" stroke-width="0.58" stroke-linejoin="round"/>
<polygon points="130,775 100,763 100,781 130,794" fill="#fff" stroke="#5c5c5c" stroke-width="0.58" stroke-linejoin="round"/>
<polygon points="156,764.6 130,775 130,794 156,784.6" fill="#fff" stroke="#5c5c5c" stroke-width="0.58" stroke-linejoin="round"/>
<polygon points="196,776 156,764.6 156,784.6 196,795" fill="#fff" stroke="#5c5c5c" stroke-width="0.58" stroke-linejoin="round"/>
<polygon points="215,768.6 196,776 196,795 215,786.6" fill="#fff" stroke="#5c5c5c" stroke-width="0.58" stroke-linejoin="round"/>
<polygon points="115,730 215,768.6 196,776 156,764.6 130,775 100,763 125,752 92,739" fill="#fff" stroke="#5c5c5c" stroke-width="0.58" stroke-linejoin="round"/>
<line x1="100" y1="764.5" x2="130" y2="776.5" stroke="#5c5c5c" stroke-width="0.4"/>
<line x1="130" y1="776.5" x2="156" y2="766.1" stroke="#5c5c5c" stroke-width="0.4"/>
<line x1="156" y1="766.1" x2="196" y2="777.5" stroke="#5c5c5c" stroke-width="0.4"/>
<line x1="92" y1="740.5" x2="125" y2="753.5" stroke="#5c5c5c" stroke-width="0.4"/>
<ellipse cx="117" cy="740" rx="4.1" ry="1.7" fill="#fff" stroke="#5c5c5c" stroke-width="0.5" transform="rotate(8 117 740)"/>
<ellipse cx="125" cy="763.6" rx="4.1" ry="1.7" fill="#fff" stroke="#5c5c5c" stroke-width="0.5" transform="rotate(8 125 763.6)"/>
<ellipse cx="188" cy="767" rx="4.1" ry="1.7" fill="#fff" stroke="#5c5c5c" stroke-width="0.5" transform="rotate(8 188 767)"/>
<polygon points="101.25,774.47 95.85,776.37 95.85,785.3 101.25,783.4" fill="#fff" stroke="#707070" stroke-width="0.55" stroke-linejoin="round"/>
<polygon points="115.75,780.67 110.35,782.57 110.35,791.5 115.75,789.6" fill="#fff" stroke="#707070" stroke-width="0.55" stroke-linejoin="round"/>
<polygon points="91.26,777.99 85.86,779.89 85.86,788.81 91.26,786.91" fill="#fff" stroke="#707070" stroke-width="0.55" stroke-linejoin="round"/>
<polygon points="105.76,784.19 100.36,786.09 100.36,795.01 105.76,793.12" fill="#fff" stroke="#707070" stroke-width="0.55" stroke-linejoin="round"/>
<polygon points="108,765.8 122.5,772 122.5,782.5 108,776.3" fill="#fff" stroke="#707070" stroke-width="0.55" stroke-linejoin="round"/>
<polygon points="81,775.3 108,765.8 108,776.3 81,785.8" fill="#fff" stroke="#707070" stroke-width="0.55" stroke-linejoin="round"/>
<polygon points="122.5,772 95.5,781.5 95.5,792 122.5,782.5" fill="#fff" stroke="#707070" stroke-width="0.55" stroke-linejoin="round"/>
<polygon points="95.5,781.5 81,775.3 81,785.8 95.5,792" fill="#fff" stroke="#707070" stroke-width="0.55" stroke-linejoin="round"/>
<polygon points="122.5,772 95.5,781.5 81,775.3 108,765.8" fill="#fff" stroke="#707070" stroke-width="0.55" stroke-linejoin="round"/>
<line x1="122.5" y1="775.5" x2="95.5" y2="785" stroke="#8a8a8a" stroke-width="0.45"/>
<line x1="122.5" y1="779" x2="95.5" y2="788.5" stroke="#8a8a8a" stroke-width="0.45"/>
<line x1="119.31" y1="770.64" x2="92.31" y2="780.14" stroke="#707070" stroke-width="0.45"/>
<ellipse cx="110.57" cy="771.11" rx="2.5" ry="1.7" fill="#fff" stroke="#707070" stroke-width="0.5" transform="rotate(160.62 110.57 771.11)"/>
<ellipse cx="97.61" cy="775.67" rx="2.3" ry="1.6" fill="#fff" stroke="#707070" stroke-width="0.5" transform="rotate(160.62 97.61 775.67)"/>
<ellipse cx="92.03" cy="777.07" rx="2.7" ry="2.7" fill="#fff" stroke="#5c5c5c" stroke-width="0.6"/>
<line x1="90.23" y1="775.87" x2="93.83" y2="778.27" stroke="#707070" stroke-width="0.5"/>
<line x1="90.83" y1="778.87" x2="93.23" y2="775.27" stroke="#707070" stroke-width="0.5"/>
<polygon points="203.25,787.6 209.85,790 209.85,799.35 203.25,796.95" fill="#fff" stroke="#707070" stroke-width="0.55" stroke-linejoin="round"/>
<polygon points="218.25,781.6 224.85,784 224.85,793.35 218.25,790.95" fill="#fff" stroke="#707070" stroke-width="0.55" stroke-linejoin="round"/>
<polygon points="215.46,792.04 222.06,794.44 222.06,803.79 215.46,801.39" fill="#fff" stroke="#707070" stroke-width="0.55" stroke-linejoin="round"/>
<polygon points="230.46,786.04 237.06,788.44 237.06,797.79 230.46,795.39" fill="#fff" stroke="#707070" stroke-width="0.55" stroke-linejoin="round"/>
<polygon points="195,778 210,772 210,783 195,789" fill="#fff" stroke="#707070" stroke-width="0.55" stroke-linejoin="round"/>
<polygon points="210,772 243,784 243,795 210,783" fill="#fff" stroke="#707070" stroke-width="0.55" stroke-linejoin="round"/>
<polygon points="228,790 195,778 195,789 228,801" fill="#fff" stroke="#707070" stroke-width="0.55" stroke-linejoin="round"/>
<polygon points="243,784 228,790 228,801 243,795" fill="#fff" stroke="#707070" stroke-width="0.55" stroke-linejoin="round"/>
<polygon points="210,772 243,784 228,790 195,778" fill="#fff" stroke="#707070" stroke-width="0.55" stroke-linejoin="round"/>
<line x1="195" y1="781.67" x2="228" y2="793.67" stroke="#8a8a8a" stroke-width="0.45"/>
<line x1="195" y1="785.33" x2="228" y2="797.33" stroke="#8a8a8a" stroke-width="0.45"/>
<line x1="198.3" y1="776.68" x2="231.3" y2="788.68" stroke="#707070" stroke-width="0.45"/>
<ellipse cx="209.85" cy="777.1" rx="2.5" ry="1.7" fill="#fff" stroke="#707070" stroke-width="0.5" transform="rotate(19.98 209.85 777.1)"/>
<ellipse cx="225.69" cy="782.86" rx="2.3" ry="1.6" fill="#fff" stroke="#707070" stroke-width="0.5" transform="rotate(19.98 225.69 782.86)"/>
<ellipse cx="230.88" cy="785.32" rx="2.7" ry="2.7" fill="#fff" stroke="#5c5c5c" stroke-width="0.6"/>
<line x1="229.08" y1="784.12" x2="232.68" y2="786.52" stroke="#707070" stroke-width="0.5"/>
<line x1="229.68" y1="787.12" x2="232.08" y2="783.52" stroke="#707070" stroke-width="0.5"/>
<polygon points="824.5,384.45 816.58,381.37 816.58,389.02 824.5,392.1" fill="#fff" stroke="#707070" stroke-width="0.55" stroke-linejoin="round"/>
<polygon points="837,377.65 829.08,374.57 829.08,382.22 837,385.3" fill="#fff" stroke="#707070" stroke-width="0.55" stroke-linejoin="round"/>
<polygon points="809.85,378.75 801.93,375.67 801.93,383.32 809.85,386.4" fill="#fff" stroke="#707070" stroke-width="0.55" stroke-linejoin="round"/>
<polygon points="822.35,371.95 814.43,368.87 814.43,376.52 822.35,379.6" fill="#fff" stroke="#707070" stroke-width="0.55" stroke-linejoin="round"/>
<polygon points="807.3,360.7 794.8,367.5 794.8,376.5 807.3,369.7" fill="#fff" stroke="#707070" stroke-width="0.55" stroke-linejoin="round"/>
<polygon points="846.9,376.1 807.3,360.7 807.3,369.7 846.9,385.1" fill="#fff" stroke="#707070" stroke-width="0.55" stroke-linejoin="round"/>
<polygon points="794.8,367.5 834.4,382.9 834.4,391.9 794.8,376.5" fill="#fff" stroke="#707070" stroke-width="0.55" stroke-linejoin="round"/>
<polygon points="834.4,382.9 846.9,376.1 846.9,385.1 834.4,391.9" fill="#fff" stroke="#707070" stroke-width="0.55" stroke-linejoin="round"/>
<polygon points="846.9,376.1 807.3,360.7 794.8,367.5 834.4,382.9" fill="#fff" stroke="#707070" stroke-width="0.55" stroke-linejoin="round"/>
<line x1="834.4" y1="385.9" x2="794.8" y2="370.5" stroke="#8a8a8a" stroke-width="0.45"/>
<line x1="834.4" y1="388.9" x2="794.8" y2="373.5" stroke="#8a8a8a" stroke-width="0.45"/>
<line x1="837.15" y1="381.4" x2="797.55" y2="366" stroke="#707070" stroke-width="0.45"/>
<ellipse cx="833.36" cy="376.08" rx="2.5" ry="1.7" fill="#fff" stroke="#707070" stroke-width="0.5" transform="rotate(-158.75 833.36 376.08)"/>
<ellipse cx="814.35" cy="368.69" rx="2.3" ry="1.6" fill="#fff" stroke="#707070" stroke-width="0.5" transform="rotate(-158.75 814.35 368.69)"/>
<ellipse cx="806.59" cy="366.26" rx="2.7" ry="2.7" fill="#fff" stroke="#5c5c5c" stroke-width="0.6"/>
<line x1="804.79" y1="365.06" x2="808.39" y2="367.46" stroke="#707070" stroke-width="0.5"/>
<line x1="805.39" y1="368.06" x2="807.79" y2="364.46" stroke="#707070" stroke-width="0.5"/>
<polygon points="828.2,388.2 854.6,372.4 854.6,384.4 828.2,405.2" fill="#fff" stroke="#5c5c5c" stroke-width="0.58" stroke-linejoin="round"/>
<polygon points="854.6,372.4 924.6,400.3 924.6,421.3 854.6,384.4" fill="#fff" stroke="#5c5c5c" stroke-width="0.58" stroke-linejoin="round"/>
<polygon points="897.5,415 828.2,388.2 828.2,405.2 897.5,435.5" fill="#fff" stroke="#5c5c5c" stroke-width="0.58" stroke-linejoin="round"/>
<polygon points="924.6,400.3 897.5,415 897.5,435.5 924.6,421.3" fill="#fff" stroke="#5c5c5c" stroke-width="0.58" stroke-linejoin="round"/>
<polygon points="854.6,372.4 924.6,400.3 897.5,415 828.2,388.2" fill="#fff" stroke="#5c5c5c" stroke-width="0.58" stroke-linejoin="round"/>
<ellipse cx="860.1" cy="387.1" rx="3.6" ry="2.4" fill="#fff" stroke="#5c5c5c" stroke-width="0.55"/>
<ellipse cx="860.1" cy="387.3" rx="1.4" ry="1" fill="#777" stroke="#555" stroke-width="0.4"/>
<ellipse cx="911.8" cy="419" rx="4.3" ry="4.6" fill="#fff" stroke="#5c5c5c" stroke-width="0.6"/>
<ellipse cx="911.8" cy="419" rx="3.1" ry="3.4" fill="#fff" stroke="#5c5c5c" stroke-width="0.5"/>
<polyline points="903,410 904,407.6 914,402.2 914.8,404.2" fill="none" stroke="#5c5c5c" stroke-width="0.5" stroke-linejoin="round"/>
<polygon points="889,598.1 901.6,593.1 914.2,596.7 916.3,594.8 923,595.6 899,607.5" fill="#fff" stroke="#5c5c5c" stroke-width="0.6" stroke-linejoin="round"/>
<polygon points="889,598.1 899,607.5 899,617 889,605.5" fill="#fff" stroke="#5c5c5c" stroke-width="0.6" stroke-linejoin="round"/>
<polygon points="885.5,605.4 892,603.5 896,609 896,617.5 890,617 885.5,611" fill="#fff" stroke="#5c5c5c" stroke-width="0.55" stroke-linejoin="round"/>
<ellipse cx="904.7" cy="599.8" rx="3.9" ry="1.8" fill="#fff" stroke="#5c5c5c" stroke-width="0.55" transform="rotate(-8 904.7 599.8)"/>
<ellipse cx="904.7" cy="599.8" rx="2" ry="0.9" fill="#fff" stroke="#5c5c5c" stroke-width="0.4" transform="rotate(-8 904.7 599.8)"/>
<path d="M895.6 611.2 Q895.6 609.8 897 609.2 L925 595.9 Q926.6 595.2 926.8 597 L927 610.5 Q927 611.6 926 612.2 L899 627 Q897.6 627.6 896.8 626.6 L895.6 625.2 Z" fill="#fff" stroke="#5c5c5c" stroke-width="0.7"/>
<path d="M897.7 611 L898 626.8" fill="none" stroke="#5c5c5c" stroke-width="0.5"/>
<polygon points="832.5,796.6 839.5,792 842.6,793.3 842.6,798.6 836,797.6" fill="#fff" stroke="#5c5c5c" stroke-width="0.55" stroke-linejoin="round"/>
<line x1="836.2" y1="797.4" x2="842.6" y2="793.3" stroke="#5c5c5c" stroke-width="0.4"/>
<polygon points="813.2,809.9 804.56,807.02 804.56,814.25 813.2,817.12" fill="#fff" stroke="#707070" stroke-width="0.55" stroke-linejoin="round"/>
<polygon points="823.6,799.5 814.96,796.62 814.96,803.85 823.6,806.73" fill="#fff" stroke="#707070" stroke-width="0.55" stroke-linejoin="round"/>
<polygon points="797.22,804.57 788.58,801.69 788.58,808.92 797.22,811.8" fill="#fff" stroke="#707070" stroke-width="0.55" stroke-linejoin="round"/>
<polygon points="807.62,794.17 798.98,791.29 798.98,798.52 807.62,801.4" fill="#fff" stroke="#707070" stroke-width="0.55" stroke-linejoin="round"/>
<polygon points="791.2,783.6 780.8,794 780.8,802.5 791.2,792.1" fill="#fff" stroke="#707070" stroke-width="0.55" stroke-linejoin="round"/>
<polygon points="834.4,798 791.2,783.6 791.2,792.1 834.4,806.5" fill="#fff" stroke="#707070" stroke-width="0.55" stroke-linejoin="round"/>
<polygon points="780.8,794 824,808.4 824,816.9 780.8,802.5" fill="#fff" stroke="#707070" stroke-width="0.55" stroke-linejoin="round"/>
<polygon points="824,808.4 834.4,798 834.4,806.5 824,816.9" fill="#fff" stroke="#707070" stroke-width="0.55" stroke-linejoin="round"/>
<polygon points="834.4,798 791.2,783.6 780.8,794 824,808.4" fill="#fff" stroke="#707070" stroke-width="0.55" stroke-linejoin="round"/>
<line x1="824" y1="811.23" x2="780.8" y2="796.83" stroke="#8a8a8a" stroke-width="0.45"/>
<line x1="824" y1="814.07" x2="780.8" y2="799.67" stroke="#8a8a8a" stroke-width="0.45"/>
<line x1="826.29" y1="806.11" x2="783.09" y2="791.71" stroke="#707070" stroke-width="0.45"/>
<ellipse cx="792.05" cy="790.82" rx="2.7" ry="2.7" fill="#fff" stroke="#5c5c5c" stroke-width="0.6"/>
<line x1="790.25" y1="789.62" x2="793.85" y2="792.02" stroke="#707070" stroke-width="0.5"/>
<line x1="790.85" y1="792.62" x2="793.25" y2="789.02" stroke="#707070" stroke-width="0.5"/>
<polygon points="834.8,817.1 843.44,819.98 843.44,827.21 834.8,824.33" fill="#fff" stroke="#707070" stroke-width="0.55" stroke-linejoin="round"/>
<polygon points="845.2,806.7 853.84,809.58 853.84,816.81 845.2,813.93" fill="#fff" stroke="#707070" stroke-width="0.55" stroke-linejoin="round"/>
<polygon points="850.78,822.43 859.42,825.31 859.42,832.53 850.78,829.65" fill="#fff" stroke="#707070" stroke-width="0.55" stroke-linejoin="round"/>
<polygon points="861.18,812.03 869.82,814.91 869.82,822.13 861.18,819.25" fill="#fff" stroke="#707070" stroke-width="0.55" stroke-linejoin="round"/>
<polygon points="824,808.4 834.4,798 834.4,806.5 824,816.9" fill="#fff" stroke="#707070" stroke-width="0.55" stroke-linejoin="round"/>
<polygon points="834.4,798 877.6,812.4 877.6,820.9 834.4,806.5" fill="#fff" stroke="#707070" stroke-width="0.55" stroke-linejoin="round"/>
<polygon points="867.2,822.8 824,808.4 824,816.9 867.2,831.3" fill="#fff" stroke="#707070" stroke-width="0.55" stroke-linejoin="round"/>
<polygon points="877.6,812.4 867.2,822.8 867.2,831.3 877.6,820.9" fill="#fff" stroke="#707070" stroke-width="0.55" stroke-linejoin="round"/>
<polygon points="834.4,798 877.6,812.4 867.2,822.8 824,808.4" fill="#fff" stroke="#707070" stroke-width="0.55" stroke-linejoin="round"/>
<line x1="824" y1="811.23" x2="867.2" y2="825.63" stroke="#8a8a8a" stroke-width="0.45"/>
<line x1="824" y1="814.07" x2="867.2" y2="828.47" stroke="#8a8a8a" stroke-width="0.45"/>
<line x1="826.29" y1="806.11" x2="869.49" y2="820.51" stroke="#707070" stroke-width="0.45"/>
<ellipse cx="866.35" cy="815.58" rx="2.7" ry="2.7" fill="#fff" stroke="#5c5c5c" stroke-width="0.6"/>
<line x1="864.55" y1="814.38" x2="868.15" y2="816.78" stroke="#707070" stroke-width="0.5"/>
<line x1="865.15" y1="817.38" x2="867.55" y2="813.78" stroke="#707070" stroke-width="0.5"/>
<polygon points="833.4,798.2 835.4,798.8 825.6,808.2 823.6,807.6" fill="#fff" stroke="none" stroke-width="0" stroke-linejoin="round"/>
<ellipse cx="829.5" cy="800.5" rx="2.7" ry="1.5" fill="#fff" stroke="#5c5c5c" stroke-width="0.5" transform="rotate(8 829.5 800.5)"/>
<polygon points="819.8,807.6 827,804.4 827,822 819.8,828" fill="#fff" stroke="#5c5c5c" stroke-width="0.55" stroke-linejoin="round"/>
<polygon points="816.8,806.6 819.8,807.6 819.8,828 816.8,827.4" fill="#fff" stroke="#5c5c5c" stroke-width="0.55" stroke-linejoin="round"/>
<polygon points="784.5,891.62 776.9,889.33 776.9,897.83 784.5,900.12" fill="#fff" stroke="#707070" stroke-width="0.55" stroke-linejoin="round"/>
<polygon points="796.5,883.62 788.9,881.33 788.9,889.83 796.5,892.12" fill="#fff" stroke="#707070" stroke-width="0.55" stroke-linejoin="round"/>
<polygon points="770.44,887.37 762.84,885.07 762.84,893.57 770.44,895.87" fill="#fff" stroke="#707070" stroke-width="0.55" stroke-linejoin="round"/>
<polygon points="782.44,879.37 774.84,877.07 774.84,885.57 782.44,887.87" fill="#fff" stroke="#707070" stroke-width="0.55" stroke-linejoin="round"/>
<polygon points="768,869 756,877 756,887 768,879" fill="#fff" stroke="#707070" stroke-width="0.55" stroke-linejoin="round"/>
<polygon points="806,880.5 768,869 768,879 806,890.5" fill="#fff" stroke="#707070" stroke-width="0.55" stroke-linejoin="round"/>
<polygon points="756,877 794,888.5 794,898.5 756,887" fill="#fff" stroke="#707070" stroke-width="0.55" stroke-linejoin="round"/>
<polygon points="794,888.5 806,880.5 806,890.5 794,898.5" fill="#fff" stroke="#707070" stroke-width="0.55" stroke-linejoin="round"/>
<polygon points="806,880.5 768,869 756,877 794,888.5" fill="#fff" stroke="#707070" stroke-width="0.55" stroke-linejoin="round"/>
<line x1="794" y1="891.83" x2="756" y2="880.33" stroke="#8a8a8a" stroke-width="0.45"/>
<line x1="794" y1="895.17" x2="756" y2="883.67" stroke="#8a8a8a" stroke-width="0.45"/>
<line x1="796.64" y1="886.74" x2="758.64" y2="875.24" stroke="#707070" stroke-width="0.45"/>
<ellipse cx="793" cy="881.8" rx="2.5" ry="1.7" fill="#fff" stroke="#707070" stroke-width="0.5" transform="rotate(-163.16 793 881.8)"/>
<ellipse cx="774.76" cy="876.28" rx="2.3" ry="1.6" fill="#fff" stroke="#707070" stroke-width="0.5" transform="rotate(-163.16 774.76 876.28)"/>
<ellipse cx="767.32" cy="874.61" rx="2.7" ry="2.7" fill="#fff" stroke="#5c5c5c" stroke-width="0.6"/>
<line x1="765.52" y1="873.41" x2="769.12" y2="875.81" stroke="#707070" stroke-width="0.5"/>
<line x1="766.12" y1="876.41" x2="768.52" y2="872.81" stroke="#707070" stroke-width="0.5"/>
<polygon points="779.5,888 811,878.3 811,890.3 779.5,907" fill="#fff" stroke="#5c5c5c" stroke-width="0.58" stroke-linejoin="round"/>
<polygon points="811,878.3 904,912.4 904,929.4 811,890.3" fill="#fff" stroke="#5c5c5c" stroke-width="0.58" stroke-linejoin="round"/>
<polygon points="873,919.6 779.5,888 779.5,907 873,939" fill="#fff" stroke="#5c5c5c" stroke-width="0.58" stroke-linejoin="round"/>
<polygon points="904,912.4 873,919.6 873,939 904,929.4" fill="#fff" stroke="#5c5c5c" stroke-width="0.58" stroke-linejoin="round"/>
<polygon points="811,878.3 904,912.4 873,919.6 779.5,888" fill="#fff" stroke="#5c5c5c" stroke-width="0.58" stroke-linejoin="round"/>
<ellipse cx="809.5" cy="887" rx="3.9" ry="1.7" fill="#fff" stroke="#5c5c5c" stroke-width="0.5" transform="rotate(8 809.5 887)"/>
<ellipse cx="874" cy="910" rx="3.8" ry="1.7" fill="#fff" stroke="#5c5c5c" stroke-width="0.5" transform="rotate(8 874 910)"/>
<line x1="780" y1="890" x2="872.8" y2="921.6" stroke="#5c5c5c" stroke-width="0.45"/>
<polygon points="890.5,929.92 896.5,932.42 896.5,941.35 890.5,938.85" fill="#fff" stroke="#707070" stroke-width="0.55" stroke-linejoin="round"/>
<polygon points="905.5,922.92 911.5,925.42 911.5,934.35 905.5,931.85" fill="#fff" stroke="#707070" stroke-width="0.55" stroke-linejoin="round"/>
<polygon points="901.6,934.55 907.6,937.05 907.6,945.98 901.6,943.48" fill="#fff" stroke="#707070" stroke-width="0.55" stroke-linejoin="round"/>
<polygon points="916.6,927.55 922.6,930.05 922.6,938.98 916.6,936.48" fill="#fff" stroke="#707070" stroke-width="0.55" stroke-linejoin="round"/>
<polygon points="883,920.5 898,913.5 898,924 883,931" fill="#fff" stroke="#707070" stroke-width="0.55" stroke-linejoin="round"/>
<polygon points="898,913.5 928,926 928,936.5 898,924" fill="#fff" stroke="#707070" stroke-width="0.55" stroke-linejoin="round"/>
<polygon points="913,933 883,920.5 883,931 913,943.5" fill="#fff" stroke="#707070" stroke-width="0.55" stroke-linejoin="round"/>
<polygon points="928,926 913,933 913,943.5 928,936.5" fill="#fff" stroke="#707070" stroke-width="0.55" stroke-linejoin="round"/>
<polygon points="898,913.5 928,926 913,933 883,920.5" fill="#fff" stroke="#707070" stroke-width="0.55" stroke-linejoin="round"/>
<line x1="883" y1="924" x2="913" y2="936.5" stroke="#8a8a8a" stroke-width="0.45"/>
<line x1="883" y1="927.5" x2="913" y2="940" stroke="#8a8a8a" stroke-width="0.45"/>
<line x1="886.3" y1="918.96" x2="916.3" y2="931.46" stroke="#707070" stroke-width="0.45"/>
<ellipse cx="897.25" cy="919.15" rx="2.5" ry="1.7" fill="#fff" stroke="#707070" stroke-width="0.5" transform="rotate(22.62 897.25 919.15)"/>
<ellipse cx="911.65" cy="925.15" rx="2.3" ry="1.6" fill="#fff" stroke="#707070" stroke-width="0.5" transform="rotate(22.62 911.65 925.15)"/>
<ellipse cx="916.3" cy="927.75" rx="2.7" ry="2.7" fill="#fff" stroke="#5c5c5c" stroke-width="0.6"/>
<line x1="914.5" y1="926.55" x2="918.1" y2="928.95" stroke="#707070" stroke-width="0.5"/>
<line x1="915.1" y1="929.55" x2="917.5" y2="925.95" stroke="#707070" stroke-width="0.5"/>
</g>
<text x="374" y="321" font-size="12.5" text-anchor="start" fill="#151515" textLength="108" lengthAdjust="spacingAndGlyphs">L-counterclockwise</text>
<text x="545" y="321" font-size="12.5" text-anchor="start" fill="#151515" textLength="64.5" lengthAdjust="spacingAndGlyphs">L-clockwise</text>
<text x="784.6" y="347.5" font-size="12.5" text-anchor="start" fill="#151515" textLength="114.5" lengthAdjust="spacingAndGlyphs">Single power supply</text>
<text x="130.5" y="433.6" font-size="12.5" text-anchor="start" fill="#151515" textLength="67.5" lengthAdjust="spacingAndGlyphs">X connector</text>
<text x="878.5" y="576" font-size="12.5" text-anchor="start" fill="#151515" textLength="44.8" lengthAdjust="spacingAndGlyphs">End cap</text>
<text x="103.5" y="709" font-size="12.5" text-anchor="start" fill="#151515" textLength="67" lengthAdjust="spacingAndGlyphs">T connector</text>
<text x="785" y="776.5" font-size="12.5" text-anchor="start" fill="#151515" textLength="63.7" lengthAdjust="spacingAndGlyphs">I connector</text>
<text x="829.2" y="880" font-size="12.5" text-anchor="start" fill="#151515" textLength="121.7" lengthAdjust="spacingAndGlyphs">Double power supply</text>
<text x="340.9" y="841.6" font-size="12.5" text-anchor="start" fill="#151515" textLength="108" lengthAdjust="spacingAndGlyphs">L-counterclockwise</text>
<text x="508.8" y="841.6" font-size="12.5" text-anchor="start" fill="#151515" textLength="64.8" lengthAdjust="spacingAndGlyphs">L-clockwise</text>
<text x="239.6" y="380.5" font-size="12.5" text-anchor="middle" fill="#151515">C</text>
<line x1="250" y1="367" x2="250" y2="382.5" stroke="#4a4a4a" stroke-width="0.55"/>
<polygon points="250,382.5 248,377.5 252,377.5" fill="#111"/>
<polygon points="250,367 252,372 248,372" fill="#111"/>
<line x1="254" y1="392.4" x2="335" y2="445" stroke="#4a4a4a" stroke-width="0.55"/>
<polygon points="335,445 328.35,443.31 330.75,439.61" fill="#111"/>
<polygon points="254,392.4 260.65,394.09 258.25,397.79" fill="#111"/>
<text x="283" y="434.1" font-size="12.5" text-anchor="middle" fill="#151515">B</text>
<line x1="363" y1="449" x2="447.5" y2="372.5" stroke="#4a4a4a" stroke-width="0.55"/>
<polygon points="447.5,372.5 444.16,378.49 441.2,375.23" fill="#111"/>
<polygon points="363,449 366.34,443.01 369.3,446.27" fill="#111"/>
<text x="419.5" y="422.1" font-size="12.5" text-anchor="middle" fill="#151515">A</text>
<text x="763.5" y="381.1" font-size="12.5" text-anchor="middle" fill="#151515">C</text>
<line x1="753.2" y1="369.3" x2="753.2" y2="385.4" stroke="#4a4a4a" stroke-width="0.55"/>
<polygon points="753.2,385.4 751.2,380.4 755.2,380.4" fill="#111"/>
<polygon points="753.2,369.3 755.2,374.3 751.2,374.3" fill="#111"/>
<line x1="749.2" y1="382.5" x2="685.9" y2="460.2" stroke="#4a4a4a" stroke-width="0.55"/>
<polygon points="685.9,460.2 688.3,453.77 691.71,456.55" fill="#111"/>
<polygon points="749.2,382.5 746.8,388.93 743.39,386.15" fill="#111"/>
<text x="726.5" y="431" font-size="12.5" text-anchor="middle" fill="#151515">B</text>
<line x1="571" y1="400.8" x2="665.6" y2="457.3" stroke="#4a4a4a" stroke-width="0.55"/>
<polygon points="665.6,457.3 658.89,455.86 661.15,452.08" fill="#111"/>
<polygon points="571,400.8 577.71,402.24 575.45,406.02" fill="#111"/>
<text x="604" y="442" font-size="12.5" text-anchor="middle" fill="#151515">A</text>
<line x1="774.3" y1="399.2" x2="887.6" y2="446.5" stroke="#4a4a4a" stroke-width="0.55"/>
<polygon points="887.6,446.5 880.75,446.03 882.45,441.97" fill="#111"/>
<polygon points="774.3,399.2 781.15,399.67 779.45,403.73" fill="#111"/>
<text x="825" y="434.5" font-size="12.5" text-anchor="middle" fill="#151515">A</text>
<line x1="904.8" y1="451.4" x2="937" y2="430.7" stroke="#4a4a4a" stroke-width="0.55"/>
<polygon points="937,430.7 932.72,436.07 930.34,432.36" fill="#111"/>
<polygon points="904.8,451.4 909.08,446.03 911.46,449.74" fill="#111"/>
<text x="924" y="452.1" font-size="12.5" text-anchor="middle" fill="#151515">B</text>
<line x1="940" y1="396.6" x2="940" y2="420" stroke="#4a4a4a" stroke-width="0.55"/>
<polygon points="940,420 938,414.5 942,414.5" fill="#111"/>
<polygon points="940,396.6 942,402.1 938,402.1" fill="#111"/>
<text x="948.5" y="413.5" font-size="12.5" text-anchor="middle" fill="#151515">C</text>
<line x1="13" y1="492" x2="136" y2="543" stroke="#4a4a4a" stroke-width="0.55"/>
<polygon points="136,543 129.15,542.54 130.84,538.48" fill="#111"/>
<polygon points="13,492 19.85,492.46 18.16,496.52" fill="#111"/>
<text x="65" y="530.5" font-size="12.5" text-anchor="middle" fill="#151515">A</text>
<line x1="160" y1="539" x2="297" y2="509" stroke="#4a4a4a" stroke-width="0.55"/>
<polygon points="297,509 291.12,512.54 290.18,508.24" fill="#111"/>
<polygon points="160,539 165.88,535.46 166.82,539.76" fill="#111"/>
<text x="231" y="536.5" font-size="12.5" text-anchor="middle" fill="#151515">B</text>
<line x1="278" y1="472" x2="278" y2="500" stroke="#4a4a4a" stroke-width="0.55"/>
<polygon points="278,500 276,494 280,494" fill="#111"/>
<polygon points="278,472 280,478 276,478" fill="#111"/>
<text x="287" y="491.5" font-size="12.5" text-anchor="middle" fill="#151515">C</text>
<line x1="938.7" y1="590.3" x2="938.7" y2="614.5" stroke="#4a4a4a" stroke-width="0.55"/>
<polygon points="938.7,614.5 936.7,609 940.7,609" fill="#111"/>
<polygon points="938.7,590.3 940.7,595.8 936.7,595.8" fill="#111"/>
<text x="947" y="607.1" font-size="12.5" text-anchor="middle" fill="#151515">C</text>
<line x1="901.6" y1="636.5" x2="937" y2="619" stroke="#4a4a4a" stroke-width="0.55"/>
<polygon points="937,619 932.15,623.85 930.2,619.91" fill="#111"/>
<polygon points="901.6,636.5 906.45,631.65 908.4,635.59" fill="#111"/>
<text x="924.4" y="640" font-size="12.5" text-anchor="middle" fill="#151515">A</text>
<line x1="868" y1="624.6" x2="893.2" y2="636.6" stroke="#4a4a4a" stroke-width="0.55"/>
<polygon points="893.2,636.6 886.39,635.79 888.28,631.82" fill="#111"/>
<polygon points="868,624.6 874.81,625.41 872.92,629.38" fill="#111"/>
<text x="876" y="642.8" font-size="12.5" text-anchor="middle" fill="#151515">B</text>
<line x1="24" y1="788" x2="166" y2="838" stroke="#4a4a4a" stroke-width="0.55"/>
<polygon points="166,838 159.14,837.92 160.6,833.77" fill="#111"/>
<polygon points="24,788 30.86,788.08 29.4,792.23" fill="#111"/>
<text x="95" y="830.5" font-size="12.5" text-anchor="middle" fill="#151515">A</text>
<line x1="190" y1="840" x2="275" y2="813" stroke="#4a4a4a" stroke-width="0.55"/>
<polygon points="275,813 269.47,817.06 268.14,812.87" fill="#111"/>
<polygon points="190,840 195.53,835.94 196.86,840.13" fill="#111"/>
<text x="238" y="839.5" font-size="12.5" text-anchor="middle" fill="#151515">B</text>
<line x1="264" y1="776" x2="264" y2="804" stroke="#4a4a4a" stroke-width="0.55"/>
<polygon points="264,804 262,798 266,798" fill="#111"/>
<polygon points="264,776 266,782 262,782" fill="#111"/>
<text x="273" y="795.5" font-size="12.5" text-anchor="middle" fill="#151515">C</text>
<line x1="906" y1="803.3" x2="906" y2="827.2" stroke="#4a4a4a" stroke-width="0.55"/>
<polygon points="906,827.2 904,821.7 908,821.7" fill="#111"/>
<polygon points="906,803.3 908,808.8 904,808.8" fill="#111"/>
<text x="913.7" y="819.5" font-size="12.5" text-anchor="middle" fill="#151515">C</text>
<line x1="766.8" y1="822" x2="856.5" y2="851.4" stroke="#4a4a4a" stroke-width="0.55"/>
<polygon points="856.5,851.4 849.64,851.47 851.01,847.28" fill="#111"/>
<polygon points="766.8,822 773.66,821.93 772.29,826.12" fill="#111"/>
<text x="807" y="848.5" font-size="12.5" text-anchor="middle" fill="#151515">A</text>
<line x1="869.5" y1="852" x2="901.2" y2="830" stroke="#4a4a4a" stroke-width="0.55"/>
<polygon points="901.2,830 897.11,835.51 894.61,831.9" fill="#111"/>
<polygon points="869.5,852 873.59,846.49 876.09,850.1" fill="#111"/>
<text x="893.7" y="852.8" font-size="12.5" text-anchor="middle" fill="#151515">B</text>
<line x1="950" y1="921.6" x2="950" y2="945" stroke="#4a4a4a" stroke-width="0.55"/>
<polygon points="950,945 948,939.5 952,939.5" fill="#111"/>
<polygon points="950,921.6 952,927.1 948,927.1" fill="#111"/>
<text x="957.5" y="937.5" font-size="12.5" text-anchor="middle" fill="#151515">C</text>
<line x1="737" y1="910" x2="889.5" y2="963.7" stroke="#4a4a4a" stroke-width="0.55"/>
<polygon points="889.5,963.7 882.64,963.62 884.1,959.47" fill="#111"/>
<polygon points="737,910 743.86,910.08 742.4,914.23" fill="#111"/>
<text x="809" y="949.5" font-size="12.5" text-anchor="middle" fill="#151515">A</text>
<line x1="904.6" y1="962.7" x2="947.5" y2="949" stroke="#4a4a4a" stroke-width="0.55"/>
<polygon points="947.5,949 941.98,953.07 940.64,948.88" fill="#111"/>
<polygon points="904.6,962.7 910.12,958.63 911.46,962.82" fill="#111"/>
<text x="930" y="967.2" font-size="12.5" text-anchor="middle" fill="#151515">B</text>
<text x="239.6" y="916.5" font-size="12.5" text-anchor="middle" fill="#151515">C</text>
<line x1="251" y1="902.8" x2="251" y2="918.4" stroke="#4a4a4a" stroke-width="0.55"/>
<polygon points="251,918.4 249,913.4 253,913.4" fill="#111"/>
<polygon points="251,902.8 253,907.8 249,907.8" fill="#111"/>
<line x1="256" y1="930.9" x2="336" y2="982.7" stroke="#4a4a4a" stroke-width="0.55"/>
<polygon points="336,982.7 329.35,981.01 331.74,977.32" fill="#111"/>
<polygon points="256,930.9 262.65,932.59 260.26,936.28" fill="#111"/>
<text x="284.7" y="971.4" font-size="12.5" text-anchor="middle" fill="#151515">B</text>
<line x1="364.4" y1="986.8" x2="450.8" y2="910" stroke="#4a4a4a" stroke-width="0.55"/>
<polygon points="450.8,910 447.4,915.96 444.48,912.67" fill="#111"/>
<polygon points="364.4,986.8 367.8,980.84 370.72,984.13" fill="#111"/>
<text x="420.8" y="960.1" font-size="12.5" text-anchor="middle" fill="#151515">A</text>
<text x="687.6" y="908.5" font-size="12.5" text-anchor="middle" fill="#151515">C</text>
<line x1="677.3" y1="896.3" x2="677.3" y2="912.4" stroke="#4a4a4a" stroke-width="0.55"/>
<polygon points="677.3,912.4 675.3,907.4 679.3,907.4" fill="#111"/>
<polygon points="677.3,896.3 679.3,901.3 675.3,901.3" fill="#111"/>
<line x1="673.2" y1="910" x2="610.8" y2="986.8" stroke="#4a4a4a" stroke-width="0.55"/>
<polygon points="610.8,986.8 613.19,980.37 616.61,983.14" fill="#111"/>
<polygon points="673.2,910 670.81,916.43 667.39,913.66" fill="#111"/>
<text x="650.4" y="957.7" font-size="12.5" text-anchor="middle" fill="#151515">B</text>
<line x1="495.6" y1="928.5" x2="590" y2="984.4" stroke="#4a4a4a" stroke-width="0.55"/>
<polygon points="590,984.4 583.29,982.98 585.53,979.2" fill="#111"/>
<polygon points="495.6,928.5 502.31,929.92 500.07,933.7" fill="#111"/>
<text x="528.7" y="969.2" font-size="12.5" text-anchor="middle" fill="#151515">A</text>
</svg>
</body></html>
